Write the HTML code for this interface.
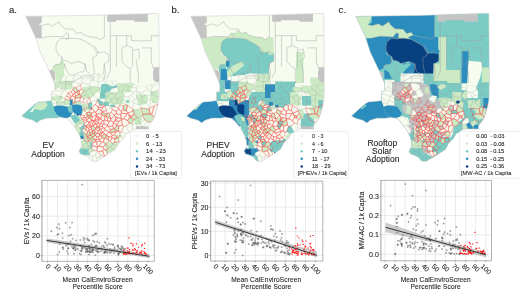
<!DOCTYPE html>
<html><head><meta charset="utf-8"><style>
html,body{margin:0;padding:0;background:#fff;}
body{width:520px;height:298px;overflow:hidden;}
svg{display:block;font-family:"Liberation Sans", sans-serif;}
svg{will-change:transform;}
text{stroke:#2a2a2a;stroke-width:0.1px;}
</style></head><body>
<svg width="520" height="298" viewBox="0 0 520 298">
<defs><path id="gmesh" d="M118.5,108.0L119.9,105.0L119.7,104.3L116.8,102.7L113.5,103.9L113.2,106.3ZM142.6,127.1L147.5,121.9L144.8,120.0L139.9,122.9ZM118.1,88.5L119.6,91.5L121.9,92.6L126.5,84.4L126.2,83.6L123.7,83.6ZM93.8,94.6L89.6,88.4L85.7,91.1L86.4,94.5L88.6,97.6L88.9,97.7L89.8,97.8L93.8,95.6ZM101.4,91.4L102.3,95.4L107.1,96.3L108.2,95.9L108.6,95.0L104.8,90.8ZM142.7,102.3L141.0,105.6L140.8,108.0L149.2,109.0L149.7,107.9L144.7,101.9ZM137.1,91.3L136.6,98.4L142.4,101.7L142.0,97.3L139.6,92.4ZM92.0,108.3L94.1,105.3L90.8,102.4L90.8,102.3L88.5,104.2L88.5,107.0ZM84.7,140.7L81.4,142.7L81.7,145.2L81.3,146.1L87.0,142.7L87.1,142.2ZM72.9,81.7L81.0,84.2L82.2,82.8L81.5,78.4L80.1,75.5L80.0,75.5L74.2,75.8ZM132.6,129.3L132.8,129.2L136.1,129.0L138.3,129.0L136.3,124.2L132.3,124.4ZM79.2,122.1L81.5,118.6L81.5,118.3L79.9,115.5L79.7,115.2L78.0,115.2L78.0,115.2L78.0,115.2L77.9,115.2L77.9,115.2L74.4,113.7L74.4,113.7L74.4,113.7L74.4,113.7L74.4,113.6L74.3,113.6L73.4,112.5L72.0,113.5L72.0,113.5L72.0,113.6L72.0,113.6L72.0,113.6L71.2,114.9ZM60.1,96.4L60.5,96.3L62.7,91.6L54.7,89.9L54.7,90.9L51.4,91.7L51.4,93.5ZM98.0,81.9L98.5,87.0L99.4,87.9L105.5,84.9L105.3,81.0L103.5,81.0L103.5,80.8ZM60.4,82.5L58.1,87.1L64.3,90.3L64.7,90.1L66.0,84.4L65.5,83.8ZM123.8,98.8L121.8,100.4L119.7,104.3L119.9,105.0L123.4,105.8L126.1,104.6ZM93.6,139.2L92.3,137.5L90.8,138.9L89.2,141.2L89.9,141.5L92.7,140.4ZM57.3,103.2L57.4,102.2L51.4,96.7L51.4,100.0L53.6,100.0L53.6,103.4ZM150.4,99.2L150.1,98.8L144.7,101.9L149.7,107.9L150.0,107.6ZM96.6,157.8L95.2,155.5L92.0,156.2L93.2,161.3L96.3,161.3ZM133.4,110.6L140.6,108.4L140.8,108.0L141.0,105.6L133.8,102.9L132.5,108.7ZM88.5,104.2L86.3,102.6L84.0,102.9L83.9,109.2L88.5,107.0ZM151.6,93.5L159.2,89.8L159.3,84.0L155.2,84.0L152.3,86.8L150.4,91.4ZM98.0,81.9L97.8,81.7L91.6,80.2L91.5,80.2L89.4,84.5L90.0,86.4L98.5,87.0ZM126.5,84.4L128.3,86.5L136.6,88.1L137.5,85.8L131.7,83.6L126.2,83.6ZM115.9,94.6L115.6,97.9L116.7,98.9L124.1,95.5L123.6,94.1L121.9,92.6L119.6,91.5ZM147.7,89.6L150.4,91.4L152.3,86.8L150.5,84.6L146.5,86.3L145.8,86.3ZM76.8,125.8L73.9,126.3L75.5,128.5L77.5,131.5L78.6,133.7L80.8,132.2L80.9,129.6L80.0,127.9ZM81.5,78.4L90.5,78.3L89.9,74.5L80.1,75.5ZM81.3,146.1L81.0,147.2L83.3,148.6L88.0,145.6L87.0,142.7ZM112.4,144.2L111.2,147.1L113.8,150.4L115.6,149.2L117.1,146.2ZM107.5,87.2L104.8,90.8L108.6,95.0L110.1,93.2L110.4,90.3ZM99.1,75.8L97.8,81.7L98.0,81.9L103.5,80.8L103.6,79.2ZM100.2,156.3L96.6,157.8L96.3,161.3L96.5,161.3L99.2,159.5L99.5,159.3ZM84.1,124.3L80.0,127.9L80.9,129.6L82.8,129.1L85.3,125.5ZM64.3,102.5L64.4,104.2L69.6,103.9L69.6,100.0L65.0,99.4ZM73.5,103.6L72.7,102.7L72.7,103.7ZM133.1,101.9L134.5,99.7L131.3,95.4L127.8,97.1L131.0,101.6ZM132.3,124.4L131.8,123.8L129.3,123.2L125.7,126.2L129.3,132.4L129.4,132.3L132.6,129.3ZM57.4,102.2L58.8,100.7L60.1,96.4L51.4,93.5L51.4,96.7ZM154.1,106.2L157.1,104.5L150.4,99.2L150.0,107.6ZM110.4,90.3L110.1,93.2L115.9,94.6L119.6,91.5L118.1,88.5L116.3,87.1ZM89.3,154.9L89.1,153.2L88.1,152.1L84.9,151.3L82.1,154.6L84.4,155.3L87.9,157.0ZM83.9,98.8L88.6,97.6L86.4,94.5L81.4,96.8ZM121.9,92.6L123.6,94.1L127.7,90.9L128.3,86.5L126.5,84.4ZM142.6,128.9L148.9,128.9L148.2,126.9L149.6,124.2L151.5,121.8L147.5,121.9L142.6,127.1ZM113.2,106.3L113.5,103.9L111.3,101.2L109.1,102.6L108.3,105.4L111.6,107.9L111.8,107.9ZM119.7,104.3L121.8,100.4L116.9,99.4L116.8,102.7ZM108.3,105.4L104.7,106.3L106.2,109.5L111.6,107.9ZM99.4,89.0L99.4,87.9L98.5,87.0L90.0,86.4L89.6,88.4L93.8,94.6ZM62.7,91.6L60.5,96.3L64.7,98.6L66.6,96.0L67.9,92.9L64.7,90.1L64.3,90.3ZM109.1,102.6L105.0,101.6L103.6,102.7L103.6,104.8L104.0,105.9L104.7,106.3L108.3,105.4ZM64.4,104.2L64.3,102.5L58.8,100.7L57.4,102.2L57.3,103.2L58.1,105.3L61.7,105.3L61.7,105.3L61.7,105.3L63.7,105.8ZM73.4,87.7L71.1,84.3L66.0,84.4L64.7,90.1L67.9,92.9L68.1,92.9L71.0,91.5L72.8,89.9ZM115.8,85.4L112.6,83.6L107.2,86.4L107.5,87.2L110.4,90.3L116.3,87.1ZM76.8,125.8L79.2,122.4L79.2,122.1L71.2,114.9L70.0,117.0L70.0,117.0L69.9,117.0L69.9,117.0L69.9,117.1L69.9,117.1L69.9,117.1L69.9,117.1L66.4,118.2L69.8,121.0L72.5,124.3L73.9,126.3ZM127.7,90.9L133.8,92.1L136.6,90.6L136.6,88.1L128.3,86.5ZM151.6,93.5L151.6,93.8L159.0,97.6L159.2,89.8ZM150.1,98.8L150.6,95.7L145.2,95.1L142.0,97.3L142.4,101.7L142.7,102.3L144.7,101.9ZM89.2,141.2L88.2,141.4L87.1,142.2L87.0,142.7L88.0,145.6L88.4,145.9L92.3,145.4L92.4,145.3L92.4,143.3L89.9,141.5ZM88.0,145.6L83.3,148.6L84.9,151.3L88.1,152.1L89.0,148.6L88.4,145.9ZM81.0,147.2L80.4,148.6L79.0,151.2L80.4,154.0L82.1,154.6L84.9,151.3L83.3,148.6ZM60.4,82.5L59.0,81.0L56.0,82.0L54.0,82.0L54.7,85.0L54.7,89.6L58.1,87.1ZM86.6,135.0L82.8,136.8L82.6,138.1L83.9,138.7L87.2,135.9ZM136.6,88.1L136.6,90.6L137.1,91.3L139.6,92.4L142.0,92.3L147.7,89.6L145.8,86.3L138.0,86.0L137.5,85.8ZM102.3,95.4L98.3,99.0L103.6,102.7L105.0,101.6L107.1,96.3ZM123.6,94.1L124.1,95.5L124.6,96.4L127.8,97.1L131.3,95.4L133.8,92.1L127.7,90.9ZM134.1,113.5L137.0,117.6L138.1,117.8L142.3,115.2L142.7,114.4L140.6,108.4L133.4,110.6L133.3,110.9ZM81.8,89.2L83.5,90.9L85.7,91.1L89.6,88.4L90.0,86.4L89.4,84.5L82.2,82.8L81.0,84.2L80.6,85.1ZM110.1,93.2L108.6,95.0L108.2,95.9L111.3,99.7L115.6,97.9L115.9,94.6ZM102.3,95.4L101.4,91.4L99.4,89.0L93.8,94.6L93.8,95.6L97.9,99.0L98.3,99.0ZM79.2,122.4L76.8,125.8L80.0,127.9L84.1,124.3L84.1,124.3ZM99.1,75.8L103.6,79.2L103.8,74.5L98.6,74.2ZM60.4,82.5L65.5,83.8L66.6,76.0L62.0,76.0L62.0,80.0L59.0,81.0ZM88.1,152.1L89.1,153.2L93.9,150.7L91.8,148.3L89.0,148.6ZM90.5,78.3L91.5,80.2L91.6,80.2L98.5,74.2L95.4,74.0L89.9,74.5ZM60.5,96.3L60.1,96.4L58.8,100.7L64.3,102.5L65.0,99.4L64.7,98.6ZM111.2,147.1L108.8,147.6L106.7,150.4L107.6,154.6L111.5,152.0L113.8,150.4ZM57.3,103.2L53.6,103.4L53.6,106.6L56.9,105.3L56.9,105.3L57.0,105.3L57.0,105.3L57.0,105.3L58.1,105.3ZM80.9,129.6L80.8,132.2L83.1,133.3L83.2,133.3L86.1,130.3L85.8,129.4L82.8,129.1ZM132.5,108.7L133.8,102.9L133.1,101.9L131.0,101.6L127.4,105.1L127.6,105.6ZM123.8,138.2L126.3,133.5L126.3,133.5L121.5,131.8L120.2,132.2L119.8,135.2ZM92.0,156.2L89.3,154.9L87.9,157.0L88.5,157.3L91.1,160.7L93.0,161.3L93.2,161.3ZM73.8,103.8L74.0,104.6L76.5,104.3L76.5,104.3L76.5,104.3L76.5,104.3L80.0,104.8L81.9,102.4L79.5,100.8L74.7,102.5ZM93.8,95.6L89.8,97.8L90.8,102.3L90.8,102.4L97.6,99.6L97.9,99.0ZM119.3,141.7L114.9,142.2L112.4,143.5L112.4,144.2L117.1,146.2L119.0,142.5L119.6,142.0ZM139.2,122.6L139.9,122.9L144.8,120.0L142.3,115.2L138.1,117.8ZM131.0,101.6L127.8,97.1L124.6,96.4L123.8,98.8L126.1,104.6L127.4,105.1ZM105.7,143.9L105.7,144.2L108.8,147.6L111.2,147.1L112.4,144.2L112.4,143.5L110.4,141.1L109.1,141.1ZM91.6,80.2L97.8,81.7L99.1,75.8L98.6,74.2L98.5,74.2ZM121.8,100.4L123.8,98.8L124.6,96.4L124.1,95.5L116.7,98.9L116.9,99.4ZM111.3,99.7L108.2,95.9L107.1,96.3L105.0,101.6L109.1,102.6L111.3,101.2ZM82.6,138.1L80.5,138.2L81.0,139.8L81.4,142.7L84.7,140.7L83.9,138.7ZM96.9,150.5L93.9,150.7L89.1,153.2L89.3,154.9L92.0,156.2L95.2,155.5L97.2,151.2ZM97.9,99.0L97.6,99.6L97.4,100.5L100.1,105.2L103.6,104.8L103.6,102.7L98.3,99.0ZM84.0,102.9L86.3,102.6L88.9,97.7L88.6,97.6L83.9,98.8L83.5,102.4ZM115.8,85.4L116.3,87.1L118.1,88.5L123.7,83.6L117.0,83.6L117.0,82.8ZM116.8,102.7L116.9,99.4L116.7,98.9L115.6,97.9L111.3,99.7L111.3,101.2L113.5,103.9ZM131.8,123.8L132.3,124.4L136.3,124.2L139.2,122.6L138.1,117.8L137.0,117.6L133.6,119.7ZM101.1,155.6L100.2,156.3L99.5,159.3L102.6,157.8L104.5,156.6ZM111.6,81.0L105.3,81.0L105.5,84.9L107.2,86.4L112.6,83.6ZM83.1,133.3L80.8,132.2L78.6,133.7L79.7,135.8L80.5,138.2L82.6,138.1L82.8,136.8ZM138.3,129.0L142.6,128.9L142.6,127.1L139.9,122.9L139.2,122.6L136.3,124.2ZM83.5,90.9L80.6,95.2L81.2,96.7L81.4,96.8L86.4,94.5L85.7,91.1ZM107.2,86.4L105.5,84.9L99.4,87.9L99.4,89.0L101.4,91.4L104.8,90.8L107.5,87.2ZM89.4,84.5L91.5,80.2L90.5,78.3L81.5,78.4L82.2,82.8ZM110.9,112.5L112.1,109.6L111.8,107.9L111.6,107.9L106.2,109.5L106.1,110.6L107.6,113.3L109.1,113.4ZM125.7,126.2L123.6,126.2L121.5,131.8L126.3,133.5L129.3,132.4ZM145.2,95.1L150.6,95.7L151.6,93.8L151.6,93.5L150.4,91.4L147.7,89.6L142.0,92.3ZM134.5,99.7L136.6,98.4L137.1,91.3L136.6,90.6L133.8,92.1L131.3,95.4ZM151.6,93.8L150.6,95.7L150.1,98.8L150.4,99.2L157.1,104.5L158.0,104.7L159.0,100.0L159.0,97.6ZM73.8,103.8L73.5,103.6L72.7,103.7L72.7,104.7L74.0,104.6ZM73.4,112.5L72.3,111.1L72.3,111.1L72.3,111.1L72.3,111.1L72.3,111.1L72.3,111.0L72.3,111.0L71.9,105.7L69.8,105.7L69.8,105.7L69.8,105.7L69.7,105.7L69.7,105.7L69.7,105.7L69.7,105.7L69.7,105.7L69.7,105.6L69.6,105.6L69.6,105.6L69.6,105.6L69.6,105.6L69.6,105.6L69.6,105.5L69.6,105.5L69.6,105.5L69.6,103.9L64.4,104.2L63.7,105.8L67.1,106.6L67.2,106.6L67.2,106.6L67.2,106.6L67.2,106.6L67.2,106.6L67.2,106.7L67.3,106.7L68.7,108.4L68.7,108.4L72.0,113.4L72.0,113.4L72.0,113.4L72.0,113.4L72.0,113.5L72.0,113.5L72.0,113.5L72.0,113.5L72.0,113.5ZM80.6,85.1L81.0,84.2L72.9,81.7L71.1,84.3L73.4,87.7L75.7,87.7ZM97.4,100.5L97.6,99.6L90.8,102.4L94.1,105.3L95.5,104.7ZM74.2,75.8L70.0,76.0L66.6,76.0L65.5,83.8L66.0,84.4L71.1,84.3L72.9,81.7ZM98.4,151.8L97.2,151.2L95.2,155.5L96.6,157.8L100.2,156.3L101.1,155.6ZM62.7,91.6L64.3,90.3L58.1,87.1L54.7,89.6L54.7,89.9ZM142.0,97.3L145.2,95.1L142.0,92.3L139.6,92.4ZM89.9,141.5L92.4,143.3L92.9,143.0L92.7,140.4ZM119.8,135.2L117.9,137.8L119.3,141.7L119.6,142.0L123.6,138.5L123.8,138.2ZM86.6,135.0L86.5,134.9L83.2,133.3L83.1,133.3L82.8,136.8ZM79.2,122.1L79.2,122.4L84.1,124.3L84.5,123.2L82.8,119.8L81.5,118.6ZM83.5,109.6L83.9,109.2L84.0,102.9L83.5,102.4L81.9,102.4L80.0,104.8L80.0,104.8L80.0,104.8L80.1,104.8L80.1,104.8L82.1,105.8L82.1,105.8L82.1,105.8L82.1,105.9L82.2,105.9L82.2,105.9L82.2,105.9L82.2,105.9L82.2,105.9L82.2,106.0L82.2,106.0L82.6,109.8ZM152.3,86.8L155.2,84.0L152.0,84.0L150.5,84.6ZM112.6,83.6L115.8,85.4L117.0,82.8L117.0,81.0L111.6,81.0ZM133.8,102.9L141.0,105.6L142.7,102.3L142.4,101.7L136.6,98.4L134.5,99.7L133.1,101.9ZM83.5,109.6L82.6,109.8L82.7,111.0L82.7,111.0L82.7,111.0L82.7,111.0L82.7,111.0L81.7,115.0L81.7,115.1L81.7,115.1L81.7,115.1L81.7,115.1L81.7,115.1L81.6,115.1L81.6,115.2L81.6,115.2L81.6,115.2L81.6,115.2L81.6,115.2L81.5,115.2L81.5,115.2L81.5,115.2L79.7,115.2L79.9,115.5L84.8,115.3L86.8,113.3L86.7,112.9ZM89.0,148.6L91.8,148.3L92.3,145.4L88.4,145.9Z" fill="none" stroke="#9a9a9a" stroke-opacity="0.45" stroke-width="0.3"/><path id="rmesh" d="M144.8,120.0L147.5,121.9L151.5,121.8L152.3,120.8L154.3,117.5L154.4,117.2L151.7,114.8L150.3,113.8L142.7,114.4L142.3,115.2ZM101.4,142.3L100.3,141.1L96.2,142.1L97.8,146.8L99.2,146.2ZM104.5,120.1L108.1,121.1L106.2,116.1L105.7,115.6L104.9,115.9ZM104.8,128.4L105.0,129.5L109.1,132.3L109.5,132.2L110.5,129.9L108.2,126.3L107.5,125.7ZM105.0,129.5L103.2,132.4L104.2,133.9L106.3,135.0L109.1,132.3ZM108.6,136.6L106.3,135.3L105.5,138.1L108.4,140.3ZM89.6,118.3L91.1,115.6L91.0,115.3L87.8,115.4L87.8,115.6L89.2,118.1ZM88.6,128.1L86.4,127.2L85.8,129.4L86.1,130.3L87.9,131.3L88.2,131.2L89.0,130.4ZM112.6,126.0L113.7,128.7L114.5,129.0L116.7,125.0L113.5,123.0ZM121.3,118.5L121.7,119.1L123.6,118.8L127.2,113.7L121.3,113.4L120.8,115.0ZM107.5,125.5L104.2,124.1L102.7,124.5L102.3,126.5L103.1,127.8L104.8,128.4L107.5,125.7ZM129.5,117.5L131.6,117.8L132.1,116.1L128.9,115.2ZM73.5,103.6L73.8,103.8L74.7,102.5L75.3,98.4L75.0,97.2L72.8,96.1L71.0,96.4L70.4,98.2L70.3,99.2L72.5,99.2L72.5,99.2L72.5,99.2L72.6,99.2L72.6,99.2L72.6,99.2L72.6,99.2L72.6,99.2L72.6,99.3L72.7,99.3L72.7,99.3L72.7,99.3L72.7,99.3L72.7,99.3L72.7,99.4L72.7,99.4L72.7,99.4L72.7,102.7ZM106.7,150.4L104.0,149.4L102.4,150.7L104.8,156.4L106.2,155.5L107.6,154.6ZM89.1,122.0L88.6,123.7L89.8,125.9L91.1,126.6L91.3,126.4L89.8,121.8ZM84.1,117.7L84.8,115.3L79.9,115.5L81.5,118.3ZM110.3,132.8L109.5,132.2L109.1,132.3L106.3,135.0L106.3,135.3L108.6,136.6L111.8,137.0L112.1,135.5ZM84.5,123.2L87.0,121.2L86.6,120.1L82.8,119.8ZM75.0,97.2L75.3,98.4L80.8,97.2L81.2,96.7L80.6,95.2L79.5,94.6L78.4,94.5L75.8,96.0ZM67.9,92.9L66.6,96.0L70.4,98.2L71.0,96.4L68.1,92.9ZM118.3,117.9L115.7,116.9L115.3,120.3ZM101.2,132.7L99.1,133.7L99.5,135.8L100.8,136.1L101.7,132.7ZM94.6,111.8L95.6,112.3L98.2,109.2L98.2,107.8L97.8,106.7L95.5,104.7L94.1,105.3L92.0,108.3L92.0,108.4ZM112.4,143.5L114.9,142.2L114.6,138.5L111.9,138.0L110.4,141.1ZM151.7,114.8L154.4,117.2L155.6,113.4L157.6,106.7L158.0,104.7L157.1,104.5L154.1,106.2ZM104.0,149.4L106.7,150.4L108.8,147.6L105.7,144.2L103.0,147.2ZM92.2,137.2L90.7,135.5L90.3,135.4L87.4,136.0L87.7,136.9L90.8,138.9L92.3,137.5ZM87.4,136.0L87.2,135.9L83.9,138.7L84.7,140.7L87.1,142.2L88.2,141.4L87.7,136.9ZM77.9,90.6L79.0,90.7L81.8,89.2L80.6,85.1L75.7,87.7ZM102.0,111.6L101.4,110.4L98.2,109.2L95.6,112.3L96.4,113.9L101.1,113.9L101.9,112.1ZM97.2,117.3L98.3,119.9L98.9,120.0L100.4,119.1ZM110.7,120.7L109.0,121.6L107.5,125.5L107.5,125.7L108.2,126.3L112.6,126.0L113.5,123.0L113.1,122.0ZM110.7,120.7L113.1,122.0L115.0,121.0L115.3,120.3L115.7,116.9L114.6,115.9L111.0,118.9L110.9,119.1ZM121.2,111.1L121.3,113.4L127.2,113.7L128.0,113.1L128.1,113.0L126.2,110.6L123.3,110.0ZM91.6,113.4L88.8,112.2L86.7,112.9L86.8,113.3L87.8,115.4L91.0,115.3ZM127.4,105.1L126.1,104.6L123.4,105.8L123.3,110.0L126.2,110.6L127.6,105.6ZM118.7,109.4L116.3,111.4L116.1,113.6L120.8,115.0L121.3,113.4L121.2,111.1ZM103.6,104.8L100.1,105.2L97.8,106.7L98.2,107.8L103.1,106.9L104.0,105.9ZM106.8,114.1L107.6,113.3L106.1,110.6L102.0,111.6L101.9,112.1ZM115.0,121.0L118.9,121.2L121.5,119.6L121.7,119.1L121.3,118.5L118.3,117.9L115.3,120.3ZM101.1,113.9L102.1,115.3L104.9,115.9L105.7,115.6L106.8,114.1L101.9,112.1ZM91.1,115.6L92.4,116.7L96.2,114.9L96.4,113.9L95.6,112.3L94.6,111.8L91.6,113.4L91.0,115.3ZM99.2,139.2L98.2,136.7L96.7,136.6L95.7,140.1ZM103.0,132.4L101.7,132.7L100.8,136.1L101.6,136.6L104.2,133.9L103.2,132.4ZM94.8,124.6L96.1,124.1L94.4,120.3L93.1,120.5ZM97.4,100.5L95.5,104.7L97.8,106.7L100.1,105.2ZM112.1,109.6L110.9,112.5L114.6,115.3L116.1,113.6L116.3,111.4ZM106.2,116.1L108.1,121.1L109.0,121.6L110.7,120.7L110.9,119.1ZM114.9,142.2L119.3,141.7L117.9,137.8L117.4,137.7L114.6,138.5ZM92.7,133.3L92.4,131.5L89.9,132.7L90.3,135.4L90.7,135.5ZM91.8,148.3L93.9,150.7L96.9,150.5L97.4,147.3L92.4,145.3L92.3,145.4ZM117.4,137.7L117.9,137.8L119.8,135.2L120.2,132.2L118.4,131.3L116.6,131.1L116.2,131.5L114.5,134.7ZM71.0,91.5L72.9,94.6L74.8,93.3L74.9,92.3L72.8,89.9ZM114.5,134.7L116.2,131.5L110.3,132.8L112.1,135.5ZM103.3,142.0L104.3,138.7L101.9,137.5L99.9,139.6L100.3,141.1L101.4,142.3ZM100.7,129.2L99.8,129.2L99.1,130.1L101.2,132.7L101.7,132.7L103.0,132.4ZM98.3,123.0L96.4,124.2L97.0,125.8L99.3,126.5L99.8,126.0L99.8,123.6L98.5,122.9ZM91.1,126.6L89.8,125.9L86.2,126.3L86.4,127.2L88.6,128.1L91.1,126.7ZM118.8,126.0L122.4,125.1L121.5,119.6L118.9,121.2L117.0,125.0ZM88.8,112.2L91.6,113.4L94.6,111.8L92.0,108.4ZM116.7,125.0L114.5,129.0L116.6,131.1L118.4,131.3L118.8,126.0L117.0,125.0ZM92.2,137.2L95.4,135.4L94.0,133.8L92.7,133.3L90.7,135.5ZM116.2,131.5L116.6,131.1L114.5,129.0L113.7,128.7L110.5,129.9L109.5,132.2L110.3,132.8ZM132.1,116.1L134.1,113.5L133.3,110.9L128.1,113.0L128.0,113.1L128.9,115.2ZM127.5,120.5L123.6,118.8L121.7,119.1L121.5,119.6L122.4,125.1L123.6,126.2L125.7,126.2L129.3,123.2ZM79.5,100.8L81.9,102.4L83.5,102.4L83.9,98.8L81.4,96.8L81.2,96.7L80.8,97.2ZM93.0,125.7L91.3,126.4L91.1,126.6L91.1,126.7L91.5,129.6L92.7,130.5L94.4,130.2L95.4,129.2L95.4,128.4ZM91.9,120.5L91.8,120.2L89.6,118.3L89.2,118.1L86.7,119.7L86.6,120.1L87.0,121.2L89.1,122.0L89.8,121.8L91.8,120.6ZM92.9,143.0L95.7,141.6L95.6,140.2L93.6,139.2L92.7,140.4ZM74.7,102.5L79.5,100.8L80.8,97.2L75.3,98.4ZM90.8,102.3L89.8,97.8L88.9,97.7L86.3,102.6L88.5,104.2ZM127.5,120.5L129.3,123.2L131.8,123.8L133.6,119.7L131.6,117.8L129.5,117.5ZM87.8,115.4L86.8,113.3L84.8,115.3L84.1,117.7L85.9,117.9L87.8,115.6ZM102.4,120.4L101.1,123.2L102.7,124.5L104.2,124.1L103.8,120.5ZM105.5,138.1L104.3,138.7L103.3,142.0L105.7,143.9L109.1,141.1L108.4,140.3ZM89.9,132.7L88.2,131.2L87.9,131.3L86.5,134.9L86.6,135.0L87.2,135.9L87.4,136.0L90.3,135.4ZM94.4,130.2L95.0,131.5L96.8,133.4L97.9,132.9L98.3,130.5L95.4,129.2ZM98.9,120.0L98.3,119.9L95.0,120.0L95.0,120.0L98.3,123.0L98.5,122.9ZM103.0,147.2L105.7,144.2L105.7,143.9L103.3,142.0L101.4,142.3L99.2,146.2ZM100.7,118.3L96.2,115.0L96.2,116.0L97.2,117.3L100.4,119.1L100.7,119.0ZM105.7,115.6L106.2,116.1L110.9,119.1L111.0,118.9L109.1,113.4L107.6,113.3L106.8,114.1ZM85.9,125.9L88.6,123.7L89.1,122.0L87.0,121.2L84.5,123.2L84.1,124.3L84.1,124.3L85.3,125.5ZM99.8,123.6L101.1,123.2L102.4,120.4L100.7,119.0L100.4,119.1L98.9,120.0L98.5,122.9ZM99.8,126.0L102.3,126.5L102.7,124.5L101.1,123.2L99.8,123.6ZM97.0,125.8L95.8,128.0L99.3,127.7L99.3,126.5ZM128.0,113.1L127.2,113.7L123.6,118.8L127.5,120.5L129.5,117.5L128.9,115.2ZM96.4,113.9L96.2,114.9L96.2,115.0L100.7,118.3L102.1,115.3L101.1,113.9ZM87.9,131.3L86.1,130.3L83.2,133.3L86.5,134.9ZM104.5,156.6L104.8,156.4L102.4,150.7L98.4,151.8L101.1,155.6ZM93.1,125.5L94.8,124.6L93.1,120.5L91.9,120.5L91.8,120.6ZM91.8,120.2L92.4,116.7L91.1,115.6L89.6,118.3ZM92.0,108.3L88.5,107.0L83.9,109.2L83.5,109.6L86.7,112.9L88.8,112.2L92.0,108.4ZM86.2,126.3L89.8,125.9L88.6,123.7L85.9,125.9ZM113.5,123.0L116.7,125.0L117.0,125.0L118.9,121.2L115.0,121.0L113.1,122.0ZM99.3,127.7L99.8,129.2L100.7,129.2L103.1,127.8L102.3,126.5L99.8,126.0L99.3,126.5ZM95.6,140.2L95.7,140.1L96.7,136.6L95.5,135.4L95.4,135.4L92.2,137.2L92.3,137.5L93.6,139.2ZM118.4,131.3L120.2,132.2L121.5,131.8L123.6,126.2L122.4,125.1L118.8,126.0ZM100.8,136.1L99.5,135.8L98.2,136.7L99.2,139.2L99.9,139.6L101.9,137.5L101.6,136.6ZM89.8,121.8L91.3,126.4L93.0,125.7L93.1,125.5L91.8,120.6ZM68.1,92.9L71.0,96.4L72.8,96.1L72.9,94.6L71.0,91.5ZM100.7,118.3L100.7,119.0L102.4,120.4L103.8,120.5L104.5,120.1L104.9,115.9L102.1,115.3ZM91.5,129.6L91.1,126.7L88.6,128.1L89.0,130.4ZM79.0,90.7L79.5,94.6L80.6,95.2L83.5,90.9L81.8,89.2ZM97.8,146.8L97.4,147.3L96.9,150.5L97.2,151.2L98.4,151.8L102.4,150.7L104.0,149.4L103.0,147.2L99.2,146.2ZM104.8,128.4L103.1,127.8L100.7,129.2L103.0,132.4L103.2,132.4L105.0,129.5ZM101.6,136.6L101.9,137.5L104.3,138.7L105.5,138.1L106.3,135.3L106.3,135.0L104.2,133.9ZM103.1,106.9L98.2,107.8L98.2,109.2L101.4,110.4ZM92.4,143.3L92.4,145.3L97.4,147.3L97.8,146.8L96.2,142.1L95.7,141.6L92.9,143.0ZM74.9,92.3L76.8,92.4L77.9,90.6L75.7,87.7L73.4,87.7L72.8,89.9ZM118.3,117.9L121.3,118.5L120.8,115.0L116.1,113.6L114.6,115.3L114.6,115.9L115.7,116.9ZM112.1,109.6L116.3,111.4L118.7,109.4L118.5,108.0L113.2,106.3L111.8,107.9ZM126.2,110.6L128.1,113.0L133.3,110.9L133.4,110.6L132.5,108.7L127.6,105.6ZM94.0,133.8L95.0,131.5L94.4,130.2L92.7,130.5L92.4,131.5L92.7,133.3ZM95.0,120.0L94.4,120.3L96.1,124.1L96.4,124.2L98.3,123.0ZM109.1,141.1L110.4,141.1L111.9,138.0L111.8,137.0L108.6,136.6L108.4,140.3ZM96.2,116.0L95.0,120.0L98.3,119.9L97.2,117.3ZM95.5,135.4L96.7,136.6L98.2,136.7L99.5,135.8L99.1,133.7L97.9,132.9L96.8,133.4ZM82.8,129.1L85.8,129.4L86.4,127.2L86.2,126.3L85.9,125.9L85.3,125.5ZM123.4,105.8L119.9,105.0L118.5,108.0L118.7,109.4L121.2,111.1L123.3,110.0ZM78.4,94.5L79.5,94.6L79.0,90.7L77.9,90.6L76.8,92.4ZM108.2,126.3L110.5,129.9L113.7,128.7L112.6,126.0ZM149.7,107.9L149.2,109.0L150.3,113.8L151.7,114.8L154.1,106.2L150.0,107.6ZM114.6,115.9L114.6,115.3L110.9,112.5L109.1,113.4L111.0,118.9ZM111.8,137.0L111.9,138.0L114.6,138.5L117.4,137.7L114.5,134.7L112.1,135.5ZM109.0,121.6L108.1,121.1L104.5,120.1L103.8,120.5L104.2,124.1L107.5,125.5ZM96.1,124.1L94.8,124.6L93.1,125.5L93.0,125.7L95.4,128.4L95.8,128.0L97.0,125.8L96.4,124.2ZM87.7,136.9L88.2,141.4L89.2,141.2L90.8,138.9ZM131.6,117.8L133.6,119.7L137.0,117.6L134.1,113.5L132.1,116.1ZM93.1,120.5L94.4,120.3L95.0,120.0L95.0,120.0L96.2,116.0L96.2,115.0L96.2,114.9L92.4,116.7L91.8,120.2L91.9,120.5ZM106.1,110.6L106.2,109.5L104.7,106.3L104.0,105.9L103.1,106.9L101.4,110.4L102.0,111.6ZM96.2,142.1L100.3,141.1L99.9,139.6L99.2,139.2L95.7,140.1L95.6,140.2L95.7,141.6ZM97.9,132.9L99.1,133.7L101.2,132.7L99.1,130.1L98.3,130.5ZM92.7,130.5L91.5,129.6L89.0,130.4L88.2,131.2L89.9,132.7L92.4,131.5ZM95.4,135.4L95.5,135.4L96.8,133.4L95.0,131.5L94.0,133.8ZM95.4,128.4L95.4,129.2L98.3,130.5L99.1,130.1L99.8,129.2L99.3,127.7L95.8,128.0ZM65.0,99.4L69.6,100.0L69.6,99.4L69.6,99.4L69.6,99.4L69.6,99.3L69.6,99.3L69.6,99.3L69.6,99.3L69.6,99.3L69.7,99.3L69.7,99.2L69.7,99.2L69.7,99.2L69.7,99.2L69.7,99.2L69.8,99.2L69.8,99.2L69.8,99.2L70.3,99.2L70.4,98.2L66.6,96.0L64.7,98.6ZM87.8,115.6L85.9,117.9L86.7,119.7L89.2,118.1ZM74.8,93.3L75.8,96.0L78.4,94.5L76.8,92.4L74.9,92.3ZM85.9,117.9L84.1,117.7L81.5,118.3L81.5,118.6L82.8,119.8L86.6,120.1L86.7,119.7ZM72.8,96.1L75.0,97.2L75.8,96.0L74.8,93.3L72.9,94.6ZM142.7,114.4L150.3,113.8L149.2,109.0L140.8,108.0L140.6,108.4Z" fill="none" stroke="#ff3434" stroke-width="0.34" stroke-linejoin="round"/><path id="lines" d="M38.2,24.8 L42.2,25.5 L48.3,23.8 L52.3,26.1 L59.0,21.7 L60.4,24.8 L65.1,28.8 L73.2,29.2 L76.5,33.5 L81.2,32.2 L83.3,34.9 L90.0,36.9 L97.0,37.5 L99.5,39.5 L104.4,37.3M41.5,38.2 L49.6,36.2 L63.1,36.9 L66.4,32.9 L68.5,33.5 L68.5,38.9 L65.2,39.2M104.4,15.0 L104.4,37.3M110.3,21.7 L110.3,71.3 L106.7,78.4M110.3,35.7 L131.4,35.7 L131.4,40.8 L151.3,40.8 L151.3,35.7 L159.0,35.7M116.6,35.7 L116.6,66.6M126.7,35.7 L126.7,45.5 L122.0,47.9 L122.0,62.0 L125.5,65.5 L130.2,69.0 L130.2,83.0M126.7,45.5 L132.6,47.9 L132.6,66.6 L130.2,69.0M133.7,50.2 L138.4,49.0 L139.6,57.3 L136.1,60.8 L138.4,73.7 L138.4,83.0M142.0,47.9 L151.3,47.9 L151.3,62.0 L153.7,69.0M56.3,50.8 L55.9,47.0 L57.0,41.6 L61.4,38.6 L65.2,38.4 L73.6,38.3 L81.1,39.2 L85.3,41.7 L90.3,44.3 L93.7,46.8 L96.2,51.8 L98.7,52.7 L103.8,51.8 L108.8,54.3 L108.8,61.0 L104.6,63.6 L104.0,68.0 L103.5,73.5M56.3,50.8 L58.4,54.8 L61.7,56.8 L63.1,60.2 L67.1,60.9 L71.1,63.6 L75.2,62.2 L79.2,61.5 L84.6,64.2 L86.6,71.6 L90.0,73.5M61.7,56.8 L61.7,61.4 L60.4,64.1 L55.0,64.8 L53.6,68.2M93.7,46.0 L97.9,50.2 L97.0,55.2 L92.9,57.7 L92.9,63.6 L94.5,72.0 L92.9,76.2 L93.7,80.0M85.2,63.3 L85.2,68.6 L83.0,72.3 L80.0,71.6 L77.0,73.9 L72.4,75.4 L68.7,73.9 L66.4,70.1 L65.6,67.0 L64.1,64.0M103.8,63.6 L105.5,72.0 L104.0,80.0M92.8,76.0 L83.7,76.0 L76.2,79.9 L72.4,82.1 L64.9,81.4" fill="none" stroke="#a0a0a0" stroke-width="0.45"/><clipPath id="cclip"><polygon points="25.70,16.30 90.00,15.40 158.80,13.30 159.00,40.00 159.20,67.00 159.30,82.00 159.00,100.00 157.60,106.70 155.60,113.40 154.30,117.50 152.30,120.80 149.60,124.20 148.20,126.90 148.90,128.90 136.10,129.00 132.80,129.20 129.40,132.30 126.30,133.50 123.60,138.50 119.00,142.50 115.60,149.20 111.50,152.00 106.20,155.50 102.60,157.80 99.20,159.50 96.50,161.30 93.00,161.30 91.10,160.70 88.50,157.30 84.40,155.30 80.40,154.00 79.00,151.20 80.40,148.60 81.70,145.20 81.00,139.80 79.70,135.80 77.50,131.50 75.50,128.50 72.50,124.30 69.80,121.00 66.40,118.20 60.40,117.60 55.00,118.20 46.90,118.20 40.20,120.30 36.80,123.00 32.80,120.30 25.40,118.20 21.50,116.00 28.00,110.00 35.00,104.00 38.20,102.00 46.90,101.20 51.40,100.60 51.40,91.70 54.70,90.90 54.70,85.00 53.90,81.70 53.00,80.00 48.90,70.20 40.20,52.00 35.90,38.20"/></clipPath></defs><g transform="translate(0,0)"><polygon points="25.70,16.30 90.00,15.40 158.80,13.30 159.00,40.00 159.20,67.00 159.30,82.00 159.00,100.00 157.60,106.70 155.60,113.40 154.30,117.50 152.30,120.80 149.60,124.20 148.20,126.90 148.90,128.90 136.10,129.00 132.80,129.20 129.40,132.30 126.30,133.50 123.60,138.50 119.00,142.50 115.60,149.20 111.50,152.00 106.20,155.50 102.60,157.80 99.20,159.50 96.50,161.30 93.00,161.30 91.10,160.70 88.50,157.30 84.40,155.30 80.40,154.00 79.00,151.20 80.40,148.60 81.70,145.20 81.00,139.80 79.70,135.80 77.50,131.50 75.50,128.50 72.50,124.30 69.80,121.00 66.40,118.20 60.40,117.60 55.00,118.20 46.90,118.20 40.20,120.30 36.80,123.00 32.80,120.30 25.40,118.20 21.50,116.00 28.00,110.00 35.00,104.00 38.20,102.00 46.90,101.20 51.40,100.60 51.40,91.70 54.70,90.90 54.70,85.00 53.90,81.70 53.00,80.00 48.90,70.20 40.20,52.00 35.90,38.20" fill="#f7fcf0"/><g clip-path="url(#cclip)"><polygon points="21.50,116.00 28.00,110.00 35.00,104.00 38.20,102.00 46.90,101.20 51.40,100.60 53.60,106.80 54.30,110.80 57.00,114.90 61.70,117.60 60.40,117.60 55.00,118.20 46.90,118.20 40.20,120.30 36.80,123.00 32.80,120.30 25.40,118.20" fill="#7bccc4" /><polygon points="30.00,112.00 34.00,107.00 37.50,102.80 38.50,103.50 35.00,108.00 32.50,112.00" fill="#f7fcf0" /><polygon points="33.50,108.80 37.50,102.80 42.90,102.10 46.90,102.80 47.60,105.50 44.20,109.50 40.20,110.20" fill="#ccebc5" /><polygon points="53.60,65.50 59.00,64.10 61.70,60.70 63.70,61.40 65.80,65.50 63.70,70.20 64.40,74.20 60.40,80.90 55.70,80.30 55.70,72.90 50.30,70.80 53.60,67.50" fill="#ccebc5" /><polygon points="60.40,83.60 63.10,81.00 66.40,81.60 68.50,82.30 71.80,84.30 72.50,89.00 66.40,89.70 60.40,89.00" fill="#ccebc5" /><polygon points="51.40,96.40 62.70,96.00 63.00,99.70 56.00,100.50 51.40,100.60" fill="#ccebc5" /><polygon points="60.00,80.80 72.70,80.80 72.00,89.00 60.00,89.00" fill="#ccebc5" /><polygon points="83.00,87.00 90.00,86.50 91.00,92.00 86.00,93.00 83.00,92.00" fill="#ccebc5" /><polygon points="95.40,87.70 100.80,87.50 100.50,92.00 95.40,92.00" fill="#ccebc5" /><polygon points="117.60,83.60 134.40,83.60 132.00,88.00 130.00,92.00 118.00,92.00" fill="#ccebc5" /><polygon points="104.80,92.00 123.60,92.00 123.60,104.10 112.00,104.80 104.80,101.00" fill="#ccebc5" /><polygon points="136.00,95.00 141.00,94.00 148.00,96.00 147.00,104.00 138.00,105.00" fill="#ccebc5" /><polygon points="150.00,91.00 158.50,91.00 158.00,103.00 152.00,103.00" fill="#ccebc5" /><polygon points="132.00,109.00 140.00,109.50 142.00,116.00 141.00,125.00 135.00,124.00 133.00,117.00" fill="#ccebc5" /><polygon points="104.20,142.40 116.00,142.40 115.60,149.20 111.50,152.00 106.20,153.60" fill="#ccebc5" /><polygon points="114.80,135.00 122.20,135.00 121.00,137.40 117.20,139.90 114.80,140.00" fill="#ccebc5" /><polygon points="81.80,140.00 89.90,140.00 89.90,148.60 81.80,148.60" fill="#ccebc5" /><polygon points="83.70,132.50 95.00,132.50 95.00,141.00 83.70,141.00" fill="#ccebc5" /><polygon points="56.00,101.00 66.00,101.00 68.00,105.00 56.00,104.50" fill="#ccebc5" /><polygon points="68.00,101.00 80.00,101.00 82.00,105.00 68.00,105.00" fill="#ccebc5" /><polygon points="82.00,104.00 90.00,103.50 90.00,110.00 83.00,112.00" fill="#ccebc5" /><polygon points="86.00,112.00 92.00,112.00 92.00,118.00 86.00,118.00" fill="#ccebc5" /><polygon points="72.00,116.00 80.00,116.00 82.00,125.00 76.00,126.00" fill="#ccebc5" /><polygon points="101.50,84.00 108.00,84.00 110.00,86.00 113.00,86.00 118.00,85.00 117.00,87.50 112.00,88.50 109.00,92.00 101.00,92.00 100.80,88.00" fill="#7bccc4" /><polygon points="100.00,92.00 105.50,92.00 105.50,98.70 100.00,98.70" fill="#7bccc4" /><polygon points="104.00,102.00 108.80,102.00 108.80,106.00 104.00,106.00" fill="#7bccc4" /><polygon points="110.00,104.80 115.00,104.80 115.00,106.80 110.00,106.80" fill="#7bccc4" /><polygon points="126.30,100.00 129.00,100.00 129.00,102.80 126.30,102.80" fill="#7bccc4" /><polygon points="88.50,102.80 92.00,102.80 92.00,109.50 88.50,109.50" fill="#7bccc4" /><polygon points="78.40,129.70 83.00,129.70 83.70,136.00 79.50,136.00" fill="#7bccc4" /><polygon points="78.70,148.60 89.90,148.60 89.90,154.80 84.40,155.30 80.40,154.00 79.00,151.20" fill="#7bccc4" /><polygon points="89.90,141.80 91.80,141.80 91.80,148.00 89.90,148.00" fill="#7bccc4" /><polygon points="66.00,106.00 72.50,106.00 73.50,112.00 70.00,116.00" fill="#7bccc4" /><polygon points="70.00,116.00 76.00,114.00 80.00,120.00 75.00,124.00" fill="#7bccc4" /><polygon points="53.60,106.80 57.00,105.50 61.70,105.50 67.10,106.80 68.50,108.50 71.80,113.50 69.80,116.90 65.80,118.20 61.70,117.60 57.00,114.90 54.30,110.80" fill="#2b8cbe" /><polygon points="72.00,105.00 76.50,104.50 80.00,105.00 82.00,106.00 82.50,111.00 81.50,115.00 78.00,115.00 74.50,113.50 72.50,111.00" fill="#2b8cbe" /><polygon points="69.80,99.40 72.50,99.40 72.50,105.50 69.80,105.50" fill="#2b8cbe" /><polygon points="79.70,135.80 83.70,135.80 83.70,139.10 80.50,139.10" fill="#2b8cbe" /><polygon points="67.50,107.50 69.50,107.00 71.00,112.00 69.00,113.00" fill="#7bccc4" /><polygon points="77.00,114.00 78.50,114.00 78.50,115.50 77.00,115.50" fill="#084081" /><polygon points="25.70,16.30 41.80,16.30 41.80,22.50 38.20,24.80 41.50,26.00 41.80,38.20 35.90,38.20" fill="#c4c4c4" /><polygon points="107.20,14.40 147.90,13.90 147.90,21.70 134.40,21.70 134.40,20.30 116.00,20.30 116.00,21.70 107.20,21.70" fill="#c4c4c4" /><polygon points="154.00,67.50 159.30,67.00 159.30,82.30 156.00,82.30 153.30,80.00 153.00,72.00" fill="#c4c4c4" /><polygon points="48.90,70.20 52.00,69.80 55.00,72.50 55.20,80.30 53.60,81.00" fill="#c4c4c4" /><polygon points="136.10,126.20 148.50,126.50 148.90,128.90 136.10,129.00" fill="#c4c4c4" /><path d="M144.8,120.0L147.5,121.9L151.5,121.8L152.3,120.8L154.3,117.5L154.4,117.2L151.7,114.8L150.3,113.8L142.7,114.4L142.3,115.2ZM93.8,94.6L89.6,88.4L85.7,91.1L86.4,94.5L88.6,97.6L88.9,97.7L89.8,97.8L93.8,95.6ZM108.6,136.6L106.3,135.3L105.5,138.1L108.4,140.3ZM129.5,117.5L131.6,117.8L132.1,116.1L128.9,115.2ZM75.0,97.2L75.3,98.4L80.8,97.2L81.2,96.7L80.6,95.2L79.5,94.6L78.4,94.5L75.8,96.0ZM76.8,125.8L73.9,126.3L75.5,128.5L77.5,131.5L78.6,133.7L80.8,132.2L80.9,129.6L80.0,127.9ZM101.2,132.7L99.1,133.7L99.5,135.8L100.8,136.1L101.7,132.7ZM92.2,137.2L90.7,135.5L90.3,135.4L87.4,136.0L87.7,136.9L90.8,138.9L92.3,137.5ZM64.3,102.5L64.4,104.2L69.6,103.9L69.6,100.0L65.0,99.4ZM83.9,98.8L88.6,97.6L86.4,94.5L81.4,96.8ZM99.4,89.0L99.4,87.9L98.5,87.0L90.0,86.4L89.6,88.4L93.8,94.6ZM127.4,105.1L126.1,104.6L123.4,105.8L123.3,110.0L126.2,110.6L127.6,105.6ZM101.1,113.9L102.1,115.3L104.9,115.9L105.7,115.6L106.8,114.1L101.9,112.1ZM92.7,133.3L92.4,131.5L89.9,132.7L90.3,135.4L90.7,135.5ZM60.4,82.5L59.0,81.0L56.0,82.0L54.0,82.0L54.7,85.0L54.7,89.6L58.1,87.1ZM116.7,125.0L114.5,129.0L116.6,131.1L118.4,131.3L118.8,126.0L117.0,125.0ZM116.2,131.5L116.6,131.1L114.5,129.0L113.7,128.7L110.5,129.9L109.5,132.2L110.3,132.8ZM93.0,125.7L91.3,126.4L91.1,126.6L91.1,126.7L91.5,129.6L92.7,130.5L94.4,130.2L95.4,129.2L95.4,128.4ZM88.1,152.1L89.1,153.2L93.9,150.7L91.8,148.3L89.0,148.6ZM127.5,120.5L129.3,123.2L131.8,123.8L133.6,119.7L131.6,117.8L129.5,117.5ZM119.3,141.7L114.9,142.2L112.4,143.5L112.4,144.2L117.1,146.2L119.0,142.5L119.6,142.0ZM105.7,115.6L106.2,116.1L110.9,119.1L111.0,118.9L109.1,113.4L107.6,113.3L106.8,114.1ZM97.0,125.8L95.8,128.0L99.3,127.7L99.3,126.5ZM83.5,90.9L80.6,95.2L81.2,96.7L81.4,96.8L86.4,94.5L85.7,91.1ZM101.6,136.6L101.9,137.5L104.3,138.7L105.5,138.1L106.3,135.3L106.3,135.0L104.2,133.9ZM74.9,92.3L76.8,92.4L77.9,90.6L75.7,87.7L73.4,87.7L72.8,89.9ZM94.0,133.8L95.0,131.5L94.4,130.2L92.7,130.5L92.4,131.5L92.7,133.3ZM82.8,129.1L85.8,129.4L86.4,127.2L86.2,126.3L85.9,125.9L85.3,125.5ZM78.4,94.5L79.5,94.6L79.0,90.7L77.9,90.6L76.8,92.4ZM89.9,141.5L92.4,143.3L92.9,143.0L92.7,140.4ZM79.2,122.1L79.2,122.4L84.1,124.3L84.5,123.2L82.8,119.8L81.5,118.6ZM95.4,135.4L95.5,135.4L96.8,133.4L95.0,131.5L94.0,133.8ZM142.7,114.4L150.3,113.8L149.2,109.0L140.8,108.0L140.6,108.4Z" fill="#ccebc5" stroke="#ccebc5" stroke-width="0.25"/><path d="M84.1,124.3L80.0,127.9L80.9,129.6L82.8,129.1L85.3,125.5ZM97.9,99.0L97.6,99.6L97.4,100.5L100.1,105.2L103.6,104.8L103.6,102.7L98.3,99.0Z" fill="#7bccc4" stroke="#7bccc4" stroke-width="0.25"/><use href="#lines"/><use href="#gmesh"/><use href="#rmesh"/></g><polygon points="25.70,16.30 90.00,15.40 158.80,13.30 159.00,40.00 159.20,67.00 159.30,82.00 159.00,100.00 157.60,106.70 155.60,113.40 154.30,117.50 152.30,120.80 149.60,124.20 148.20,126.90 148.90,128.90 136.10,129.00 132.80,129.20 129.40,132.30 126.30,133.50 123.60,138.50 119.00,142.50 115.60,149.20 111.50,152.00 106.20,155.50 102.60,157.80 99.20,159.50 96.50,161.30 93.00,161.30 91.10,160.70 88.50,157.30 84.40,155.30 80.40,154.00 79.00,151.20 80.40,148.60 81.70,145.20 81.00,139.80 79.70,135.80 77.50,131.50 75.50,128.50 72.50,124.30 69.80,121.00 66.40,118.20 60.40,117.60 55.00,118.20 46.90,118.20 40.20,120.30 36.80,123.00 32.80,120.30 25.40,118.20 21.50,116.00 28.00,110.00 35.00,104.00 38.20,102.00 46.90,101.20 51.40,100.60 51.40,91.70 54.70,90.90 54.70,85.00 53.90,81.70 53.00,80.00 48.90,70.20 40.20,52.00 35.90,38.20" fill="none" stroke="#c8c8c8" stroke-width="0.5"/></g><g transform="translate(165,0)"><polygon points="25.70,16.30 90.00,15.40 158.80,13.30 159.00,40.00 159.20,67.00 159.30,82.00 159.00,100.00 157.60,106.70 155.60,113.40 154.30,117.50 152.30,120.80 149.60,124.20 148.20,126.90 148.90,128.90 136.10,129.00 132.80,129.20 129.40,132.30 126.30,133.50 123.60,138.50 119.00,142.50 115.60,149.20 111.50,152.00 106.20,155.50 102.60,157.80 99.20,159.50 96.50,161.30 93.00,161.30 91.10,160.70 88.50,157.30 84.40,155.30 80.40,154.00 79.00,151.20 80.40,148.60 81.70,145.20 81.00,139.80 79.70,135.80 77.50,131.50 75.50,128.50 72.50,124.30 69.80,121.00 66.40,118.20 60.40,117.60 55.00,118.20 46.90,118.20 40.20,120.30 36.80,123.00 32.80,120.30 25.40,118.20 21.50,116.00 28.00,110.00 35.00,104.00 38.20,102.00 46.90,101.20 51.40,100.60 51.40,91.70 54.70,90.90 54.70,85.00 53.90,81.70 53.00,80.00 48.90,70.20 40.20,52.00 35.90,38.20" fill="#f7fcf0"/><g clip-path="url(#cclip)"><polygon points="41.50,38.20 49.60,36.20 63.10,36.90 66.40,32.90 68.50,33.50 68.50,38.90 63.00,41.00 59.00,45.00 57.70,50.00 56.30,52.00 57.00,54.70 60.40,56.00 61.70,61.40 60.40,64.10 55.00,64.80 53.60,68.20 48.90,70.20 40.20,52.00 35.90,38.20" fill="#ccebc5" /><polygon points="68.50,33.50 73.20,30.00 76.50,33.50 81.20,32.20 83.30,34.90 90.00,36.90 97.00,37.50 99.50,39.50 104.40,37.30 108.20,37.00 108.80,54.30 103.80,51.80 98.70,52.70 96.20,51.80 93.70,46.80 90.30,44.30 85.30,41.70 81.10,39.20 73.60,38.30 65.20,38.40 68.50,38.90" fill="#ccebc5" /><polygon points="56.30,50.80 55.90,47.00 57.00,41.60 61.40,38.60 65.20,38.40 73.60,38.30 81.10,39.20 85.30,41.70 90.30,44.30 93.70,46.80 96.20,51.80 98.70,52.70 103.80,51.80 108.80,54.30 108.80,61.00 104.60,63.60 104.00,68.00 103.50,73.50 90.00,73.50 84.00,73.50 84.60,64.20 79.20,61.50 75.20,62.20 71.10,63.60 67.10,60.90 63.10,60.20 61.70,56.80 58.40,54.80" fill="#7bccc4" /><polygon points="61.80,61.00 63.10,60.20 67.10,60.90 71.10,63.60 75.20,62.20 79.20,61.50 84.60,64.20 86.60,71.60 90.00,73.50 103.50,73.50 105.40,71.10 103.80,74.50 95.40,74.00 80.00,75.50 70.00,76.00 62.00,76.00" fill="#7bccc4" /><polygon points="65.80,66.80 76.50,61.40 79.20,65.50 67.10,74.90 61.70,77.60 62.00,72.00" fill="#ccebc5" /><polygon points="61.00,60.70 64.40,60.70 64.40,66.80 61.00,66.80" fill="#2b8cbe" /><polygon points="53.60,68.20 55.00,64.80 60.40,64.10 62.00,72.00 61.70,77.60 60.00,82.00 55.00,80.30" fill="#7bccc4" /><polygon points="56.00,68.80 61.50,69.00 62.50,80.30 55.50,80.30" fill="#2b8cbe" /><polygon points="59.70,80.30 65.80,80.30 65.80,89.00 59.70,89.00" fill="#2b8cbe" /><polygon points="71.10,74.90 79.20,74.90 84.60,73.50 90.00,73.50 92.70,74.20 92.00,85.60 77.90,84.30 67.10,80.30" fill="#f7fcf0" /><polygon points="53.60,80.00 59.70,80.00 59.70,92.00 54.70,92.00 54.70,85.00" fill="#7bccc4" /><polygon points="65.80,81.60 73.80,81.60 73.80,92.00 65.80,92.00" fill="#7bccc4" /><polygon points="92.00,74.20 105.50,74.20 104.80,84.00 100.00,84.30 100.00,92.00 90.00,92.00" fill="#ccebc5" /><polygon points="100.00,84.30 110.20,84.30 110.20,92.00 100.00,92.00" fill="#2b8cbe" /><polygon points="110.20,81.60 133.00,81.60 133.00,92.00 110.20,92.00" fill="#7bccc4" /><polygon points="131.00,52.00 138.50,52.00 138.50,83.00 131.00,83.00" fill="#ccebc5" /><polygon points="103.50,52.00 108.80,52.00 108.80,54.70 103.50,54.70" fill="#ccebc5" /><polygon points="145.00,77.60 159.30,77.60 159.30,92.00 145.00,92.00" fill="#ccebc5" /><polygon points="73.80,81.60 83.00,81.60 83.00,92.00 73.80,92.00" fill="#ccebc5" /><polygon points="21.50,116.00 28.00,110.00 35.00,104.00 38.20,102.00 46.90,101.20 51.40,100.60 53.60,106.80 54.30,110.80 57.00,114.90 61.70,117.60 66.40,118.20 60.40,117.60 55.00,118.20 46.90,118.20 40.20,120.30 36.80,123.00 32.80,120.30 25.40,118.20" fill="#2b8cbe" /><polygon points="28.50,109.50 35.50,103.20 37.50,102.60 31.00,109.80" fill="#ccebc5" /><polygon points="51.40,92.00 68.50,92.00 68.50,101.00 51.40,101.00" fill="#7bccc4" /><polygon points="56.00,94.00 62.00,94.00 62.00,99.00 56.00,99.00" fill="#ccebc5" /><polygon points="62.50,92.50 66.50,92.50 66.50,97.00 62.50,97.00" fill="#f7fcf0" /><polygon points="64.00,100.00 84.00,100.00 84.00,126.00 64.00,126.00" fill="#2b8cbe" /><polygon points="84.00,92.00 125.00,92.00 125.00,105.00 84.00,105.00" fill="#7bccc4" /><polygon points="53.60,106.80 57.00,105.50 61.70,105.50 67.10,106.80 68.50,108.50 71.80,113.50 69.80,116.90 65.80,118.20 61.70,117.60 57.00,114.90 54.30,110.80" fill="#084081" /><polygon points="72.00,104.50 76.50,104.00 79.50,105.00 79.50,115.00 74.50,113.80 72.30,110.50" fill="#084081" /><polygon points="79.50,105.00 82.00,106.00 82.50,111.00 81.50,115.00 79.50,115.00" fill="#2b8cbe" /><polygon points="69.80,99.40 72.50,99.40 72.50,105.50 69.80,105.50" fill="#084081" /><polygon points="69.00,116.00 75.00,114.00 80.00,118.00 82.00,126.00 77.00,128.00 72.00,122.00" fill="#7bccc4" /><polygon points="76.00,117.00 79.00,117.00 80.00,121.00 77.00,121.00" fill="#ccebc5" /><polygon points="100.00,92.00 105.50,92.00 105.50,98.00 100.00,98.00" fill="#2b8cbe" /><polygon points="104.00,102.00 108.00,102.00 108.00,106.00 104.00,106.00" fill="#2b8cbe" /><polygon points="110.00,104.80 114.00,104.80 114.00,107.50 110.00,107.50" fill="#2b8cbe" /><polygon points="126.30,100.00 129.00,100.00 129.00,102.80 126.30,102.80" fill="#2b8cbe" /><polygon points="95.40,106.80 97.40,106.80 97.40,110.20 95.40,110.20" fill="#084081" /><polygon points="125.00,92.00 135.80,92.00 135.80,105.50 125.00,105.50" fill="#ccebc5" /><polygon points="137.00,96.00 146.50,96.00 146.50,105.50 137.00,105.50" fill="#7bccc4" /><polygon points="130.00,83.00 146.00,83.00 147.00,92.00 146.50,96.00 136.00,96.00 130.00,92.00" fill="#f7fcf0" /><polygon points="146.50,79.00 158.50,79.00 158.50,97.00 147.00,97.00" fill="#ccebc5" /><polygon points="146.50,92.00 159.00,92.00 158.00,100.00 157.30,106.00 156.00,112.00 146.50,112.00" fill="#ccebc5" /><polygon points="153.30,100.00 158.50,100.00 157.60,106.70 156.00,110.80 153.30,110.80" fill="#7bccc4" /><polygon points="135.80,113.50 147.90,113.50 149.60,124.20 147.90,128.30 135.80,128.30" fill="#7bccc4" /><polygon points="130.40,109.50 138.50,109.50 138.50,119.00 130.40,119.00" fill="#ccebc5" /><polygon points="84.00,105.00 93.00,105.00 93.00,116.00 84.00,116.00" fill="#7bccc4" /><polygon points="75.40,125.00 83.50,125.00 83.50,135.80 78.00,135.80" fill="#7bccc4" /><polygon points="80.00,136.40 82.80,136.40 82.80,139.10 80.00,139.10" fill="#084081" /><polygon points="81.40,138.50 86.20,138.50 86.20,145.20 81.40,145.20" fill="#2b8cbe" /><polygon points="83.50,141.00 88.80,141.00 88.80,149.20 83.50,149.20" fill="#7bccc4" /><polygon points="78.70,148.60 90.20,148.60 90.20,156.60 84.40,155.30 80.40,154.00 79.00,151.20" fill="#2b8cbe" /><polygon points="80.00,149.50 86.00,149.20 86.00,154.50 81.00,153.50" fill="#084081" /><polygon points="103.60,138.50 121.00,138.50 121.00,152.00 103.60,152.00" fill="#7bccc4" /><polygon points="109.00,152.00 114.40,152.00 114.40,155.30 109.00,155.30" fill="#2b8cbe" /><polygon points="119.80,130.40 126.50,130.40 126.50,138.50 119.80,138.50" fill="#ccebc5" /><polygon points="83.30,116.70 85.00,111.50 87.40,109.70 93.50,109.70 93.80,102.00 96.00,100.50 99.00,101.50 101.50,108.50 106.00,110.00 110.00,110.50 113.20,110.00 116.00,107.50 120.00,106.00 123.80,104.40 127.30,104.00 130.00,106.00 133.00,110.00 134.30,114.00 133.50,118.00 129.00,121.50 125.50,124.30 124.70,125.00 123.40,128.70 122.80,133.70 121.00,137.40 117.20,139.90 112.30,140.50 107.30,141.10 104.20,143.60 104.80,149.80 106.00,153.60 104.80,156.70 99.80,156.00 98.00,154.20 93.60,151.70 92.40,149.80 92.40,139.90 85.00,138.70 84.30,132.50 83.70,125.00" fill="#f7fcf0" /><polygon points="84.00,126.00 92.00,126.00 92.00,139.00 84.00,139.00" fill="#ccebc5" /><polygon points="97.00,112.00 103.00,112.00 103.00,118.00 97.00,118.00" fill="#ccebc5" /><polygon points="88.00,118.00 92.00,118.00 92.00,124.00 88.00,124.00" fill="#7bccc4" /><polygon points="112.00,118.00 118.00,118.00 118.00,124.00 112.00,124.00" fill="#ccebc5" /><polygon points="100.00,128.00 106.00,128.00 106.00,134.00 100.00,134.00" fill="#ccebc5" /><polygon points="143.50,109.00 149.00,106.70 155.50,108.50 156.30,113.00 154.00,118.50 149.00,119.50 144.00,116.00 146.00,112.00" fill="#ccebc5" /><polygon points="25.70,16.30 41.80,16.30 41.80,22.50 38.20,24.80 41.50,26.00 41.80,38.20 35.90,38.20" fill="#c4c4c4" /><polygon points="107.20,14.40 147.90,13.90 147.90,21.70 134.40,21.70 134.40,20.30 116.00,20.30 116.00,21.70 107.20,21.70" fill="#c4c4c4" /><polygon points="154.00,67.50 159.30,67.00 159.30,82.30 156.00,82.30 153.30,80.00 153.00,72.00" fill="#c4c4c4" /><polygon points="48.90,70.20 52.00,69.80 55.00,72.50 55.20,80.30 53.60,81.00" fill="#c4c4c4" /><polygon points="136.10,126.20 148.50,126.50 148.90,128.90 136.10,129.00" fill="#c4c4c4" /><path d="M118.5,108.0L119.9,105.0L119.7,104.3L116.8,102.7L113.5,103.9L113.2,106.3ZM101.4,142.3L100.3,141.1L96.2,142.1L97.8,146.8L99.2,146.2ZM112.6,126.0L113.7,128.7L114.5,129.0L116.7,125.0L113.5,123.0ZM94.6,111.8L95.6,112.3L98.2,109.2L98.2,107.8L97.8,106.7L95.5,104.7L94.1,105.3L92.0,108.3L92.0,108.4ZM87.8,115.4L86.8,113.3L84.8,115.3L84.1,117.7L85.9,117.9L87.8,115.6ZM92.0,156.2L89.3,154.9L87.9,157.0L88.5,157.3L91.1,160.7L93.0,161.3L93.2,161.3ZM100.7,118.3L96.2,115.0L96.2,116.0L97.2,117.3L100.4,119.1L100.7,119.0ZM96.4,113.9L96.2,114.9L96.2,115.0L100.7,118.3L102.1,115.3L101.1,113.9ZM83.1,133.3L80.8,132.2L78.6,133.7L79.7,135.8L80.5,138.2L82.6,138.1L82.8,136.8ZM113.5,123.0L116.7,125.0L117.0,125.0L118.9,121.2L115.0,121.0L113.1,122.0ZM95.6,140.2L95.7,140.1L96.7,136.6L95.5,135.4L95.4,135.4L92.2,137.2L92.3,137.5L93.6,139.2ZM68.1,92.9L71.0,96.4L72.8,96.1L72.9,94.6L71.0,91.5ZM125.7,126.2L123.6,126.2L121.5,131.8L126.3,133.5L129.3,132.4ZM95.0,120.0L94.4,120.3L96.1,124.1L96.4,124.2L98.3,123.0ZM106.1,110.6L106.2,109.5L104.7,106.3L104.0,105.9L103.1,106.9L101.4,110.4L102.0,111.6ZM87.8,115.6L85.9,117.9L86.7,119.7L89.2,118.1Z" fill="#7bccc4" stroke="#7bccc4" stroke-width="0.25"/><path d="M104.8,128.4L105.0,129.5L109.1,132.3L109.5,132.2L110.5,129.9L108.2,126.3L107.5,125.7ZM89.6,118.3L91.1,115.6L91.0,115.3L87.8,115.4L87.8,115.6L89.2,118.1ZM88.6,128.1L86.4,127.2L85.8,129.4L86.1,130.3L87.9,131.3L88.2,131.2L89.0,130.4ZM129.5,117.5L131.6,117.8L132.1,116.1L128.9,115.2ZM73.5,103.6L73.8,103.8L74.7,102.5L75.3,98.4L75.0,97.2L72.8,96.1L71.0,96.4L70.4,98.2L70.3,99.2L72.5,99.2L72.5,99.2L72.5,99.2L72.6,99.2L72.6,99.2L72.6,99.2L72.6,99.2L72.6,99.2L72.6,99.3L72.7,99.3L72.7,99.3L72.7,99.3L72.7,99.3L72.7,99.3L72.7,99.4L72.7,99.4L72.7,99.4L72.7,102.7ZM84.5,123.2L87.0,121.2L86.6,120.1L82.8,119.8ZM75.0,97.2L75.3,98.4L80.8,97.2L81.2,96.7L80.6,95.2L79.5,94.6L78.4,94.5L75.8,96.0ZM67.9,92.9L66.6,96.0L70.4,98.2L71.0,96.4L68.1,92.9ZM87.4,136.0L87.2,135.9L83.9,138.7L84.7,140.7L87.1,142.2L88.2,141.4L87.7,136.9ZM102.0,111.6L101.4,110.4L98.2,109.2L95.6,112.3L96.4,113.9L101.1,113.9L101.9,112.1ZM97.2,117.3L98.3,119.9L98.9,120.0L100.4,119.1ZM108.3,105.4L104.7,106.3L106.2,109.5L111.6,107.9ZM62.7,91.6L60.5,96.3L64.7,98.6L66.6,96.0L67.9,92.9L64.7,90.1L64.3,90.3ZM97.4,100.5L95.5,104.7L97.8,106.7L100.1,105.2ZM127.7,90.9L133.8,92.1L136.6,90.6L136.6,88.1L128.3,86.5ZM112.1,109.6L110.9,112.5L114.6,115.3L116.1,113.6L116.3,111.4ZM89.2,141.2L88.2,141.4L87.1,142.2L87.0,142.7L88.0,145.6L88.4,145.9L92.3,145.4L92.4,145.3L92.4,143.3L89.9,141.5ZM71.0,91.5L72.9,94.6L74.8,93.3L74.9,92.3L72.8,89.9ZM136.6,88.1L136.6,90.6L137.1,91.3L139.6,92.4L142.0,92.3L147.7,89.6L145.8,86.3L138.0,86.0L137.5,85.8ZM100.7,129.2L99.8,129.2L99.1,130.1L101.2,132.7L101.7,132.7L103.0,132.4ZM98.3,123.0L96.4,124.2L97.0,125.8L99.3,126.5L99.8,126.0L99.8,123.6L98.5,122.9ZM118.8,126.0L122.4,125.1L121.5,119.6L118.9,121.2L117.0,125.0ZM88.8,112.2L91.6,113.4L94.6,111.8L92.0,108.4ZM92.2,137.2L95.4,135.4L94.0,133.8L92.7,133.3L90.7,135.5ZM81.8,89.2L83.5,90.9L85.7,91.1L89.6,88.4L90.0,86.4L89.4,84.5L82.2,82.8L81.0,84.2L80.6,85.1ZM74.7,102.5L79.5,100.8L80.8,97.2L75.3,98.4ZM89.9,132.7L88.2,131.2L87.9,131.3L86.5,134.9L86.6,135.0L87.2,135.9L87.4,136.0L90.3,135.4ZM103.0,147.2L105.7,144.2L105.7,143.9L103.3,142.0L101.4,142.3L99.2,146.2ZM105.7,115.6L106.2,116.1L110.9,119.1L111.0,118.9L109.1,113.4L107.6,113.3L106.8,114.1ZM99.8,123.6L101.1,123.2L102.4,120.4L100.7,119.0L100.4,119.1L98.9,120.0L98.5,122.9ZM99.8,126.0L102.3,126.5L102.7,124.5L101.1,123.2L99.8,123.6ZM87.9,131.3L86.1,130.3L83.2,133.3L86.5,134.9ZM92.0,108.3L88.5,107.0L83.9,109.2L83.5,109.6L86.7,112.9L88.8,112.2L92.0,108.4ZM86.2,126.3L89.8,125.9L88.6,123.7L85.9,125.9ZM83.5,90.9L80.6,95.2L81.2,96.7L81.4,96.8L86.4,94.5L85.7,91.1ZM89.8,121.8L91.3,126.4L93.0,125.7L93.1,125.5L91.8,120.6ZM97.8,146.8L97.4,147.3L96.9,150.5L97.2,151.2L98.4,151.8L102.4,150.7L104.0,149.4L103.0,147.2L99.2,146.2ZM145.2,95.1L150.6,95.7L151.6,93.8L151.6,93.5L150.4,91.4L147.7,89.6L142.0,92.3ZM94.0,133.8L95.0,131.5L94.4,130.2L92.7,130.5L92.4,131.5L92.7,133.3ZM78.4,94.5L79.5,94.6L79.0,90.7L77.9,90.6L76.8,92.4ZM87.7,136.9L88.2,141.4L89.2,141.2L90.8,138.9ZM93.1,120.5L94.4,120.3L95.0,120.0L95.0,120.0L96.2,116.0L96.2,115.0L96.2,114.9L92.4,116.7L91.8,120.2L91.9,120.5ZM96.2,142.1L100.3,141.1L99.9,139.6L99.2,139.2L95.7,140.1L95.6,140.2L95.7,141.6ZM97.9,132.9L99.1,133.7L101.2,132.7L99.1,130.1L98.3,130.5ZM95.4,128.4L95.4,129.2L98.3,130.5L99.1,130.1L99.8,129.2L99.3,127.7L95.8,128.0ZM74.8,93.3L75.8,96.0L78.4,94.5L76.8,92.4L74.9,92.3ZM85.9,117.9L84.1,117.7L81.5,118.3L81.5,118.6L82.8,119.8L86.6,120.1L86.7,119.7Z" fill="#ccebc5" stroke="#ccebc5" stroke-width="0.25"/><path d="M88.1,152.1L89.1,153.2L93.9,150.7L91.8,148.3L89.0,148.6ZM89.9,141.5L92.4,143.3L92.9,143.0L92.7,140.4Z" fill="#2b8cbe" stroke="#2b8cbe" stroke-width="0.25"/><use href="#lines"/><use href="#gmesh"/><use href="#rmesh"/></g><polygon points="25.70,16.30 90.00,15.40 158.80,13.30 159.00,40.00 159.20,67.00 159.30,82.00 159.00,100.00 157.60,106.70 155.60,113.40 154.30,117.50 152.30,120.80 149.60,124.20 148.20,126.90 148.90,128.90 136.10,129.00 132.80,129.20 129.40,132.30 126.30,133.50 123.60,138.50 119.00,142.50 115.60,149.20 111.50,152.00 106.20,155.50 102.60,157.80 99.20,159.50 96.50,161.30 93.00,161.30 91.10,160.70 88.50,157.30 84.40,155.30 80.40,154.00 79.00,151.20 80.40,148.60 81.70,145.20 81.00,139.80 79.70,135.80 77.50,131.50 75.50,128.50 72.50,124.30 69.80,121.00 66.40,118.20 60.40,117.60 55.00,118.20 46.90,118.20 40.20,120.30 36.80,123.00 32.80,120.30 25.40,118.20 21.50,116.00 28.00,110.00 35.00,104.00 38.20,102.00 46.90,101.20 51.40,100.60 51.40,91.70 54.70,90.90 54.70,85.00 53.90,81.70 53.00,80.00 48.90,70.20 40.20,52.00 35.90,38.20" fill="none" stroke="#c8c8c8" stroke-width="0.5"/></g><g transform="translate(330,0)"><polygon points="25.70,16.30 90.00,15.40 158.80,13.30 159.00,40.00 159.20,67.00 159.30,82.00 159.00,100.00 157.60,106.70 155.60,113.40 154.30,117.50 152.30,120.80 149.60,124.20 148.20,126.90 148.90,128.90 136.10,129.00 132.80,129.20 129.40,132.30 126.30,133.50 123.60,138.50 119.00,142.50 115.60,149.20 111.50,152.00 106.20,155.50 102.60,157.80 99.20,159.50 96.50,161.30 93.00,161.30 91.10,160.70 88.50,157.30 84.40,155.30 80.40,154.00 79.00,151.20 80.40,148.60 81.70,145.20 81.00,139.80 79.70,135.80 77.50,131.50 75.50,128.50 72.50,124.30 69.80,121.00 66.40,118.20 60.40,117.60 55.00,118.20 46.90,118.20 40.20,120.30 36.80,123.00 32.80,120.30 25.40,118.20 21.50,116.00 28.00,110.00 35.00,104.00 38.20,102.00 46.90,101.20 51.40,100.60 51.40,91.70 54.70,90.90 54.70,85.00 53.90,81.70 53.00,80.00 48.90,70.20 40.20,52.00 35.90,38.20" fill="#f7fcf0"/><g clip-path="url(#cclip)"><polygon points="20.00,10.00 165.00,10.00 165.00,170.00 20.00,170.00" fill="#7bccc4" /><polygon points="25.70,16.30 41.80,16.30 38.20,24.80 42.20,25.50 48.30,23.80 52.30,26.10 59.00,21.70 60.40,24.80 65.10,28.80 73.20,29.20 76.50,33.50 81.20,32.20 83.30,34.90 90.00,36.90 90.00,44.00 35.90,38.20" fill="#ccebc5" /><polygon points="41.80,16.30 90.00,15.40 104.50,15.00 104.50,37.00 99.50,39.50 97.00,37.50 90.00,36.90 83.30,34.90 81.20,32.20 76.50,33.50 73.20,29.20 65.10,28.80 60.40,24.80 59.00,21.70 52.30,26.10 48.30,23.80 42.20,25.50 38.20,24.80 41.80,22.50" fill="#2b8cbe" /><polygon points="41.50,38.20 49.60,36.20 63.10,36.90 66.40,32.90 68.50,33.50 68.50,38.90 63.00,41.00 59.00,45.00 57.70,50.00 56.30,52.00 57.00,54.70 60.40,56.00 61.70,61.40 60.40,64.10 55.00,64.80 53.60,68.20 48.90,70.20 40.20,52.00 35.90,38.20" fill="#2b8cbe" /><polygon points="77.90,37.60 83.30,34.90 90.00,36.90 97.00,37.50 99.50,39.50 104.50,37.00 108.20,37.00 108.80,54.30 103.80,51.80 98.70,52.70 96.20,51.80 93.70,46.80 90.30,44.30 85.30,41.70 81.10,39.20" fill="#2b8cbe" /><polygon points="56.30,50.80 55.90,47.00 57.00,41.60 61.40,38.60 65.20,38.40 73.60,38.30 81.10,39.20 85.30,41.70 90.30,44.30 93.70,46.80 96.20,51.80 98.70,52.70 103.80,51.80 108.80,54.30 108.80,61.00 104.60,63.60 104.00,68.00 103.50,73.50 90.00,73.50 84.00,73.50 84.60,64.20 79.20,61.50 75.20,62.20 71.10,63.60 67.10,60.90 63.10,60.20 61.70,56.80 58.40,54.80" fill="#084081" /><polygon points="108.50,37.00 116.20,37.00 116.20,50.00 108.50,50.00" fill="#ccebc5" /><polygon points="96.70,50.00 109.50,50.00 109.50,53.40 96.70,53.40" fill="#2b8cbe" /><polygon points="73.30,62.70 84.00,62.70 84.00,77.50 73.30,77.50" fill="#2b8cbe" /><polygon points="53.00,66.70 62.50,64.00 67.90,68.00 77.30,62.70 81.30,64.00 72.00,73.50 65.20,77.50 61.20,77.50 58.50,72.10" fill="#7bccc4" /><polygon points="54.40,69.40 58.50,72.10 61.20,77.50 62.50,78.80 54.40,78.80" fill="#2b8cbe" /><polygon points="109.50,50.00 116.20,50.00 116.20,70.00 130.40,70.00 130.40,83.60 117.00,83.60 117.00,81.00 103.50,81.00 103.50,63.50 109.50,63.50" fill="#ccebc5" /><polygon points="131.70,51.30 138.50,51.30 138.50,83.60 131.70,83.60" fill="#2b8cbe" /><polygon points="138.50,60.80 151.90,62.00 151.90,70.00 150.00,78.00 146.50,86.30 137.00,86.30" fill="#f7fcf0" /><polygon points="151.90,67.50 160.00,67.50 160.00,82.30 151.90,82.30" fill="#ccebc5" /><polygon points="70.60,73.50 84.00,73.50 90.00,73.50 93.50,74.00 93.50,87.00 70.60,87.00" fill="#f7fcf0" /><polygon points="51.40,91.70 54.70,90.90 54.70,80.00 64.40,80.00 64.40,118.00 61.70,117.60 57.00,114.90 54.30,110.80 53.60,106.80 51.40,100.60" fill="#f7fcf0" /><polygon points="62.00,82.00 90.00,82.00 100.00,86.00 100.20,100.00 110.20,100.00 112.00,104.00 108.00,112.90 95.00,113.00 90.00,120.00 84.00,122.00 81.70,135.00 78.00,133.00 75.00,126.00 80.00,118.00 82.00,110.00 72.00,100.00 62.00,95.00" fill="#c4c4c4" /><polygon points="53.60,106.80 57.00,105.50 61.70,105.50 67.10,106.80 68.50,108.50 71.80,113.50 69.80,116.90 65.80,118.20 61.70,117.60 57.00,114.90 54.30,110.80" fill="#2b8cbe" /><polygon points="72.00,105.00 76.50,104.50 80.00,105.00 82.00,106.00 82.50,111.00 81.50,115.00 78.00,115.00 74.50,113.50 72.50,111.00" fill="#c4c4c4" /><polygon points="66.00,118.00 72.00,116.00 78.00,118.00 80.00,124.00 76.00,128.00 70.00,121.00" fill="#f7fcf0" /><polygon points="45.00,72.00 53.00,72.00 53.00,80.00 49.00,80.00" fill="#c4c4c4" /><polygon points="94.80,87.00 98.80,87.00 98.80,93.60 94.80,93.60" fill="#ccebc5" /><polygon points="99.60,84.50 104.00,84.00 108.70,86.00 108.70,98.00 104.00,97.50 101.00,92.00" fill="#2b8cbe" /><polygon points="108.70,83.00 136.00,83.00 136.00,98.00 108.70,98.00" fill="#7bccc4" /><polygon points="75.30,83.50 78.00,83.50 78.00,86.20 75.30,86.20" fill="#ccebc5" /><polygon points="75.20,84.00 77.90,84.00 77.90,86.70 75.20,86.70" fill="#ccebc5" /><polygon points="76.50,105.60 80.60,105.60 80.60,113.60 76.50,113.60" fill="#ccebc5" /><polygon points="131.70,83.60 146.50,83.60 146.50,90.00 131.70,90.00" fill="#f7fcf0" /><polygon points="21.50,116.00 28.00,110.00 35.00,104.00 38.20,102.00 46.90,101.20 51.40,100.60 53.60,106.80 54.30,110.80 57.00,114.90 61.70,117.60 66.40,118.20 60.40,117.60 55.00,118.20 46.90,118.20 40.20,120.30 36.80,123.00 32.80,120.30 25.40,118.20" fill="#2b8cbe" /><polygon points="30.50,108.50 35.50,104.20 36.80,105.50 32.00,109.50" fill="#7bccc4" /><polygon points="135.80,90.00 147.90,90.00 147.90,98.00 135.80,98.00" fill="#f7fcf0" /><polygon points="153.30,98.00 158.80,98.00 157.60,106.70 156.50,108.80 153.30,108.80" fill="#2b8cbe" /><polygon points="143.80,125.00 148.50,125.00 148.50,129.00 143.80,129.00" fill="#2b8cbe" /><polygon points="108.70,98.00 118.00,97.50 123.80,100.00 123.80,108.70 112.00,108.70" fill="#ccebc5" /><polygon points="122.30,92.00 131.40,92.00 131.40,104.00 122.30,104.00" fill="#ccebc5" /><polygon points="126.30,100.80 129.70,100.80 129.70,103.50 126.30,103.50" fill="#084081" /><polygon points="138.00,100.00 145.00,100.00 145.00,108.00 138.00,108.00" fill="#ccebc5" /><polygon points="118.00,102.00 124.00,102.00 124.00,106.00 118.00,106.00" fill="#f7fcf0" /><polygon points="76.70,140.20 91.80,140.20 91.80,148.60 76.70,148.60" fill="#ccebc5" /><polygon points="78.40,148.60 91.80,148.60 91.80,158.60 88.50,157.30 84.40,155.30 80.40,154.00 79.00,151.20" fill="#7bccc4" /><polygon points="78.40,133.50 83.40,133.50 83.40,140.20 78.40,140.20" fill="#7bccc4" /><polygon points="82.60,123.40 85.10,123.40 85.10,125.00 82.60,125.00" fill="#2b8cbe" /><polygon points="120.30,115.00 133.80,115.00 133.80,128.40 120.30,128.40" fill="#7bccc4" /><polygon points="83.30,116.70 85.00,111.50 87.40,109.70 93.50,109.70 93.80,102.00 96.00,100.50 99.00,101.50 101.50,108.50 106.00,110.00 110.00,110.50 113.20,110.00 116.00,107.50 120.00,106.00 123.80,104.40 127.30,104.00 130.00,106.00 133.00,110.00 134.30,114.00 133.50,118.00 129.00,121.50 125.50,124.30 124.70,125.00 123.40,128.70 122.80,133.70 121.00,137.40 117.20,139.90 112.30,140.50 107.30,141.10 104.20,143.60 104.80,149.80 106.00,153.60 104.80,156.70 99.80,156.00 98.00,154.20 93.60,151.70 92.40,149.80 92.40,139.90 85.00,138.70 84.30,132.50 83.70,125.00" fill="#f7fcf0" /><polygon points="83.00,110.00 95.00,110.00 95.00,122.00 83.00,122.00" fill="#c4c4c4" /><polygon points="93.50,102.00 96.00,100.50 99.00,101.50 101.50,108.50 106.00,110.00 110.00,110.50 112.00,112.00 100.00,114.00 93.00,112.00" fill="#c4c4c4" /><polygon points="95.00,118.00 101.00,118.00 101.00,124.00 95.00,124.00" fill="#ccebc5" /><polygon points="100.00,125.00 106.00,125.00 106.00,131.00 100.00,131.00" fill="#c4c4c4" /><polygon points="110.00,114.00 116.00,114.00 116.00,120.00 110.00,120.00" fill="#ccebc5" /><polygon points="86.00,126.00 90.00,126.00 90.00,132.00 86.00,132.00" fill="#7bccc4" /><polygon points="101.90,136.80 120.30,136.80 120.30,151.90 101.90,151.90" fill="#7bccc4" /><polygon points="93.50,149.40 100.20,149.40 100.20,153.60 93.50,153.60" fill="#c4c4c4" /><polygon points="84.00,132.00 92.00,132.00 92.00,139.00 84.00,139.00" fill="#ccebc5" /><polygon points="143.50,109.00 149.00,106.70 155.50,108.50 156.30,113.00 154.00,118.50 149.00,119.50 144.00,116.00 146.00,112.00" fill="#ccebc5" /><polygon points="107.20,14.40 147.90,13.90 147.90,21.70 134.40,21.70 134.40,20.30 116.00,20.30 116.00,21.70 107.20,21.70" fill="#c4c4c4" /><path d="M142.6,127.1L147.5,121.9L144.8,120.0L139.9,122.9ZM104.8,128.4L105.0,129.5L109.1,132.3L109.5,132.2L110.5,129.9L108.2,126.3L107.5,125.7ZM142.7,102.3L141.0,105.6L140.8,108.0L149.2,109.0L149.7,107.9L144.7,101.9ZM132.6,129.3L132.8,129.2L136.1,129.0L138.3,129.0L136.3,124.2L132.3,124.4ZM108.6,136.6L106.3,135.3L105.5,138.1L108.4,140.3ZM88.6,128.1L86.4,127.2L85.8,129.4L86.1,130.3L87.9,131.3L88.2,131.2L89.0,130.4ZM129.5,117.5L131.6,117.8L132.1,116.1L128.9,115.2ZM89.1,122.0L88.6,123.7L89.8,125.9L91.1,126.6L91.3,126.4L89.8,121.8ZM150.4,99.2L150.1,98.8L144.7,101.9L149.7,107.9L150.0,107.6ZM84.1,117.7L84.8,115.3L79.9,115.5L81.5,118.3ZM112.4,143.5L114.9,142.2L114.6,138.5L111.9,138.0L110.4,141.1ZM110.7,120.7L109.0,121.6L107.5,125.5L107.5,125.7L108.2,126.3L112.6,126.0L113.5,123.0L113.1,122.0ZM118.7,109.4L116.3,111.4L116.1,113.6L120.8,115.0L121.3,113.4L121.2,111.1ZM115.8,85.4L112.6,83.6L107.2,86.4L107.5,87.2L110.4,90.3L116.3,87.1ZM117.4,137.7L117.9,137.8L119.8,135.2L120.2,132.2L118.4,131.3L116.6,131.1L116.2,131.5L114.5,134.7ZM127.5,120.5L123.6,118.8L121.7,119.1L121.5,119.6L122.4,125.1L123.6,126.2L125.7,126.2L129.3,123.2ZM102.4,120.4L101.1,123.2L102.7,124.5L104.2,124.1L103.8,120.5ZM132.5,108.7L133.8,102.9L133.1,101.9L131.0,101.6L127.4,105.1L127.6,105.6ZM98.9,120.0L98.3,119.9L95.0,120.0L95.0,120.0L98.3,123.0L98.5,122.9ZM103.0,147.2L105.7,144.2L105.7,143.9L103.3,142.0L101.4,142.3L99.2,146.2ZM100.7,118.3L96.2,115.0L96.2,116.0L97.2,117.3L100.4,119.1L100.7,119.0ZM84.0,102.9L86.3,102.6L88.9,97.7L88.6,97.6L83.9,98.8L83.5,102.4ZM91.8,120.2L92.4,116.7L91.1,115.6L89.6,118.3ZM99.3,127.7L99.8,129.2L100.7,129.2L103.1,127.8L102.3,126.5L99.8,126.0L99.3,126.5ZM95.6,140.2L95.7,140.1L96.7,136.6L95.5,135.4L95.4,135.4L92.2,137.2L92.3,137.5L93.6,139.2ZM91.5,129.6L91.1,126.7L88.6,128.1L89.0,130.4ZM103.1,106.9L98.2,107.8L98.2,109.2L101.4,110.4ZM92.4,143.3L92.4,145.3L97.4,147.3L97.8,146.8L96.2,142.1L95.7,141.6L92.9,143.0ZM74.9,92.3L76.8,92.4L77.9,90.6L75.7,87.7L73.4,87.7L72.8,89.9ZM134.5,99.7L136.6,98.4L137.1,91.3L136.6,90.6L133.8,92.1L131.3,95.4ZM126.2,110.6L128.1,113.0L133.3,110.9L133.4,110.6L132.5,108.7L127.6,105.6ZM87.7,136.9L88.2,141.4L89.2,141.2L90.8,138.9ZM96.2,142.1L100.3,141.1L99.9,139.6L99.2,139.2L95.7,140.1L95.6,140.2L95.7,141.6ZM97.9,132.9L99.1,133.7L101.2,132.7L99.1,130.1L98.3,130.5Z" fill="#ccebc5" stroke="#ccebc5" stroke-width="0.25"/><path d="M101.4,142.3L100.3,141.1L96.2,142.1L97.8,146.8L99.2,146.2ZM110.3,132.8L109.5,132.2L109.1,132.3L106.3,135.0L106.3,135.3L108.6,136.6L111.8,137.0L112.1,135.5ZM101.2,132.7L99.1,133.7L99.5,135.8L100.8,136.1L101.7,132.7ZM87.4,136.0L87.2,135.9L83.9,138.7L84.7,140.7L87.1,142.2L88.2,141.4L87.7,136.9ZM91.6,113.4L88.8,112.2L86.7,112.9L86.8,113.3L87.8,115.4L91.0,115.3ZM106.8,114.1L107.6,113.3L106.1,110.6L102.0,111.6L101.9,112.1ZM103.0,132.4L101.7,132.7L100.8,136.1L101.6,136.6L104.2,133.9L103.2,132.4ZM97.4,100.5L95.5,104.7L97.8,106.7L100.1,105.2ZM91.8,148.3L93.9,150.7L96.9,150.5L97.4,147.3L92.4,145.3L92.3,145.4ZM114.5,134.7L116.2,131.5L110.3,132.8L112.1,135.5ZM103.3,142.0L104.3,138.7L101.9,137.5L99.9,139.6L100.3,141.1L101.4,142.3ZM98.3,123.0L96.4,124.2L97.0,125.8L99.3,126.5L99.8,126.0L99.8,123.6L98.5,122.9ZM92.2,137.2L95.4,135.4L94.0,133.8L92.7,133.3L90.7,135.5ZM91.9,120.5L91.8,120.2L89.6,118.3L89.2,118.1L86.7,119.7L86.6,120.1L87.0,121.2L89.1,122.0L89.8,121.8L91.8,120.6ZM89.9,132.7L88.2,131.2L87.9,131.3L86.5,134.9L86.6,135.0L87.2,135.9L87.4,136.0L90.3,135.4ZM85.9,125.9L88.6,123.7L89.1,122.0L87.0,121.2L84.5,123.2L84.1,124.3L84.1,124.3L85.3,125.5ZM113.5,123.0L116.7,125.0L117.0,125.0L118.9,121.2L115.0,121.0L113.1,122.0ZM100.8,136.1L99.5,135.8L98.2,136.7L99.2,139.2L99.9,139.6L101.9,137.5L101.6,136.6ZM104.8,128.4L103.1,127.8L100.7,129.2L103.0,132.4L103.2,132.4L105.0,129.5ZM101.6,136.6L101.9,137.5L104.3,138.7L105.5,138.1L106.3,135.3L106.3,135.0L104.2,133.9ZM96.2,116.0L95.0,120.0L98.3,119.9L97.2,117.3ZM123.4,105.8L119.9,105.0L118.5,108.0L118.7,109.4L121.2,111.1L123.3,110.0ZM108.2,126.3L110.5,129.9L113.7,128.7L112.6,126.0ZM109.0,121.6L108.1,121.1L104.5,120.1L103.8,120.5L104.2,124.1L107.5,125.5ZM96.1,124.1L94.8,124.6L93.1,125.5L93.0,125.7L95.4,128.4L95.8,128.0L97.0,125.8L96.4,124.2ZM93.1,120.5L94.4,120.3L95.0,120.0L95.0,120.0L96.2,116.0L96.2,115.0L96.2,114.9L92.4,116.7L91.8,120.2L91.9,120.5ZM87.8,115.6L85.9,117.9L86.7,119.7L89.2,118.1Z" fill="#c4c4c4" stroke="#c4c4c4" stroke-width="0.25"/><path d="M93.8,94.6L89.6,88.4L85.7,91.1L86.4,94.5L88.6,97.6L88.9,97.7L89.8,97.8L93.8,95.6ZM76.8,125.8L73.9,126.3L75.5,128.5L77.5,131.5L78.6,133.7L80.8,132.2L80.9,129.6L80.0,127.9ZM83.9,98.8L88.6,97.6L86.4,94.5L81.4,96.8ZM71.0,91.5L72.9,94.6L74.8,93.3L74.9,92.3L72.8,89.9ZM102.3,95.4L98.3,99.0L103.6,102.7L105.0,101.6L107.1,96.3ZM81.8,89.2L83.5,90.9L85.7,91.1L89.6,88.4L90.0,86.4L89.4,84.5L82.2,82.8L81.0,84.2L80.6,85.1ZM74.7,102.5L79.5,100.8L80.8,97.2L75.3,98.4ZM131.8,123.8L132.3,124.4L136.3,124.2L139.2,122.6L138.1,117.8L137.0,117.6L133.6,119.7ZM110.9,112.5L112.1,109.6L111.8,107.9L111.6,107.9L106.2,109.5L106.1,110.6L107.6,113.3L109.1,113.4ZM79.0,90.7L79.5,94.6L80.6,95.2L83.5,90.9L81.8,89.2ZM83.5,109.6L82.6,109.8L82.7,111.0L82.7,111.0L82.7,111.0L82.7,111.0L82.7,111.0L81.7,115.0L81.7,115.1L81.7,115.1L81.7,115.1L81.7,115.1L81.7,115.1L81.6,115.1L81.6,115.2L81.6,115.2L81.6,115.2L81.6,115.2L81.6,115.2L81.5,115.2L81.5,115.2L81.5,115.2L79.7,115.2L79.9,115.5L84.8,115.3L86.8,113.3L86.7,112.9Z" fill="#f7fcf0" stroke="#f7fcf0" stroke-width="0.25"/><path d="M105.0,129.5L103.2,132.4L104.2,133.9L106.3,135.0L109.1,132.3ZM121.2,111.1L121.3,113.4L127.2,113.7L128.0,113.1L128.1,113.0L126.2,110.6L123.3,110.0ZM91.1,126.6L89.8,125.9L86.2,126.3L86.4,127.2L88.6,128.1L91.1,126.7ZM92.9,143.0L95.7,141.6L95.6,140.2L93.6,139.2L92.7,140.4ZM105.7,115.6L106.2,116.1L110.9,119.1L111.0,118.9L109.1,113.4L107.6,113.3L106.8,114.1ZM93.1,125.5L94.8,124.6L93.1,120.5L91.9,120.5L91.8,120.6ZM95.4,135.4L95.5,135.4L96.8,133.4L95.0,131.5L94.0,133.8Z" fill="#7bccc4" stroke="#7bccc4" stroke-width="0.25"/><path d="M138.3,129.0L142.6,128.9L142.6,127.1L139.9,122.9L139.2,122.6L136.3,124.2Z" fill="#2b8cbe" stroke="#2b8cbe" stroke-width="0.25"/><use href="#lines"/><use href="#gmesh"/><use href="#rmesh"/></g><polygon points="25.70,16.30 90.00,15.40 158.80,13.30 159.00,40.00 159.20,67.00 159.30,82.00 159.00,100.00 157.60,106.70 155.60,113.40 154.30,117.50 152.30,120.80 149.60,124.20 148.20,126.90 148.90,128.90 136.10,129.00 132.80,129.20 129.40,132.30 126.30,133.50 123.60,138.50 119.00,142.50 115.60,149.20 111.50,152.00 106.20,155.50 102.60,157.80 99.20,159.50 96.50,161.30 93.00,161.30 91.10,160.70 88.50,157.30 84.40,155.30 80.40,154.00 79.00,151.20 80.40,148.60 81.70,145.20 81.00,139.80 79.70,135.80 77.50,131.50 75.50,128.50 72.50,124.30 69.80,121.00 66.40,118.20 60.40,117.60 55.00,118.20 46.90,118.20 40.20,120.30 36.80,123.00 32.80,120.30 25.40,118.20 21.50,116.00 28.00,110.00 35.00,104.00 38.20,102.00 46.90,101.20 51.40,100.60 51.40,91.70 54.70,90.90 54.70,85.00 53.90,81.70 53.00,80.00 48.90,70.20 40.20,52.00 35.90,38.20" fill="none" stroke="#c8c8c8" stroke-width="0.5"/></g><rect x="130.5" y="131.4" width="51.0" height="46.8" fill="#fff" fill-opacity="0.8" stroke="#e2e2e2" stroke-width="0.6" rx="1.2"/><circle cx="137" cy="135.6" r="1.25" fill="#f7fcf0" stroke="#d8d8d8" stroke-width="0.3"/><text x="146.1" y="137.6" font-size="6.2" fill="#222" style="white-space:pre" textLength="12.7" lengthAdjust="spacingAndGlyphs">0  -&#8201;5</text><circle cx="137" cy="143.5" r="1.25" fill="#ccebc5"/><text x="146.1" y="145.5" font-size="6.2" fill="#222" style="white-space:pre" textLength="16.1" lengthAdjust="spacingAndGlyphs">6  -&#8201;13</text><circle cx="137" cy="151.2" r="1.25" fill="#7bccc4"/><text x="146.1" y="153.2" font-size="6.2" fill="#222" style="white-space:pre" textLength="19.7" lengthAdjust="spacingAndGlyphs">14  -&#8201;23</text><circle cx="137" cy="158.8" r="1.25" fill="#2b8cbe"/><text x="146.1" y="160.8" font-size="6.2" fill="#222" style="white-space:pre" textLength="19.0" lengthAdjust="spacingAndGlyphs">24  -&#8201;33</text><circle cx="137" cy="166.4" r="1.25" fill="#084081"/><text x="146.1" y="168.4" font-size="6.2" fill="#222" style="white-space:pre" textLength="19.0" lengthAdjust="spacingAndGlyphs">34  -&#8201;73</text><text x="135.1" y="174.9" font-size="5.5" fill="#333" textLength="41.8" lengthAdjust="spacingAndGlyphs">[EVs / 1k Capita]</text><rect x="293.7" y="131.4" width="54.900000000000034" height="46.8" fill="#fff" fill-opacity="0.8" stroke="#e2e2e2" stroke-width="0.6" rx="1.2"/><circle cx="301.7" cy="135.6" r="1.25" fill="#f7fcf0" stroke="#d8d8d8" stroke-width="0.3"/><text x="312.0" y="137.6" font-size="6.2" fill="#222" style="white-space:pre" textLength="11.5" lengthAdjust="spacingAndGlyphs">0  -&#8201;3</text><circle cx="301.7" cy="143.5" r="1.25" fill="#ccebc5"/><text x="312.0" y="145.5" font-size="6.2" fill="#222" style="white-space:pre" textLength="11.5" lengthAdjust="spacingAndGlyphs">4  -&#8201;6</text><circle cx="301.7" cy="151.2" r="1.25" fill="#7bccc4"/><text x="312.0" y="153.2" font-size="6.2" fill="#222" style="white-space:pre" textLength="15.5" lengthAdjust="spacingAndGlyphs">7  -&#8201;10</text><circle cx="301.7" cy="158.8" r="1.25" fill="#2b8cbe"/><text x="312.0" y="160.8" font-size="6.2" fill="#222" style="white-space:pre" textLength="17.5" lengthAdjust="spacingAndGlyphs">11  -&#8201;17</text><circle cx="301.7" cy="166.4" r="1.25" fill="#084081"/><text x="312.0" y="168.4" font-size="6.2" fill="#222" style="white-space:pre" textLength="18.5" lengthAdjust="spacingAndGlyphs">18  -&#8201;29</text><text x="297.7" y="174.9" font-size="5.5" fill="#333" textLength="48.9" lengthAdjust="spacingAndGlyphs">[PHEVs / 1k Capita]</text><rect x="459.7" y="131.4" width="62.30000000000001" height="46.8" fill="#fff" fill-opacity="0.8" stroke="#e2e2e2" stroke-width="0.6" rx="1.2"/><circle cx="467.1" cy="135.6" r="1.25" fill="#f7fcf0" stroke="#d8d8d8" stroke-width="0.3"/><text x="476.2" y="137.6" font-size="6.2" fill="#222" style="white-space:pre" textLength="28.3" lengthAdjust="spacingAndGlyphs">0.00  -&#8201;0.03</text><circle cx="467.1" cy="143.5" r="1.25" fill="#ccebc5"/><text x="476.2" y="145.5" font-size="6.2" fill="#222" style="white-space:pre" textLength="28.3" lengthAdjust="spacingAndGlyphs">0.03  -&#8201;0.08</text><circle cx="467.1" cy="151.2" r="1.25" fill="#7bccc4"/><text x="476.2" y="153.2" font-size="6.2" fill="#222" style="white-space:pre" textLength="28.0" lengthAdjust="spacingAndGlyphs">0.08  -&#8201;0.15</text><circle cx="467.1" cy="158.8" r="1.25" fill="#2b8cbe"/><text x="476.2" y="160.8" font-size="6.2" fill="#222" style="white-space:pre" textLength="28.0" lengthAdjust="spacingAndGlyphs">0.15  -&#8201;0.25</text><circle cx="467.1" cy="166.4" r="1.25" fill="#084081"/><text x="476.2" y="168.4" font-size="6.2" fill="#222" style="white-space:pre" textLength="28.0" lengthAdjust="spacingAndGlyphs">0.25  -&#8201;0.36</text><text x="461.0" y="174.9" font-size="5.5" fill="#333" textLength="50.4" lengthAdjust="spacingAndGlyphs">[MW-AC / 1k Capita</text><text x="48.2" y="148.4" font-size="8.5" text-anchor="middle" fill="#222">EV</text><text x="48.0" y="156.8" font-size="8.5" text-anchor="middle" fill="#222">Adoption</text><text x="218.1" y="148.4" font-size="8.5" text-anchor="middle" fill="#222">PHEV</text><text x="218.0" y="156.8" font-size="8.5" text-anchor="middle" fill="#222">Adoption</text><text x="382.3" y="145.6" font-size="8.5" text-anchor="middle" fill="#222">Rooftop</text><text x="382.0" y="154.0" font-size="8.5" text-anchor="middle" fill="#222">Solar</text><text x="382.6" y="162.4" font-size="8.5" text-anchor="middle" fill="#222">Adoption</text><text x="8.9" y="13.3" font-size="9.6" fill="#222">a.</text><text x="171.4" y="13.3" font-size="9.6" fill="#222">b.</text><text x="338.6" y="13.4" font-size="9.6" fill="#222">c.</text><rect x="41.8" y="180.4" width="112.50000000000001" height="80.9" fill="#fff"/><path d="M47.50,180.4V261.3M57.55,180.4V261.3M67.60,180.4V261.3M77.65,180.4V261.3M87.70,180.4V261.3M97.75,180.4V261.3M107.80,180.4V261.3M117.85,180.4V261.3M127.90,180.4V261.3M137.95,180.4V261.3M148.00,180.4V261.3M41.8,255.50H154.3M41.8,235.83H154.3M41.8,216.17H154.3M41.8,196.50H154.3" stroke="#dcdcdc" stroke-width="0.6" fill="none"/><polygon points="46.60,238.30 98.00,246.20 149.50,254.30 149.50,258.20 98.00,249.40 46.60,242.60" fill="#a8a8a8" fill-opacity="0.6"/><path d="M50.90,230.80h1v1h-1zM56.40,227.10h1v1h-1zM58.50,223.70h1v1h-1zM58.80,228.20h1v1h-1zM65.20,222.40h1v1h-1zM71.60,222.10h1v1h-1zM69.50,227.10h1v1h-1zM56.90,234.20h1v1h-1zM58.00,233.50h1v1h-1zM61.90,232.70h1v1h-1zM68.70,235.00h1v1h-1zM70.60,234.20h1v1h-1zM72.20,238.20h1v1h-1zM79.80,239.50h1v1h-1zM82.90,237.40h1v1h-1zM84.50,238.20h1v1h-1zM86.90,237.90h1v1h-1zM88.50,240.10h1v1h-1zM84.20,242.10h1v1h-1zM90.80,243.70h1v1h-1zM92.40,235.00h1v1h-1zM94.00,233.80h1v1h-1zM95.50,233.10h1v1h-1zM94.00,241.40h1v1h-1zM59.20,243.70h1v1h-1zM62.40,246.90h1v1h-1zM65.50,245.30h1v1h-1zM67.90,247.70h1v1h-1zM73.50,246.10h1v1h-1zM75.80,247.70h1v1h-1zM58.90,251.60h1v1h-1zM57.20,254.00h1v1h-1zM66.40,250.80h1v1h-1zM67.60,253.20h1v1h-1zM73.50,253.20h1v1h-1zM79.00,253.20h1v1h-1zM80.50,254.00h1v1h-1zM85.30,251.60h1v1h-1zM88.50,254.00h1v1h-1zM91.60,250.80h1v1h-1zM94.80,254.80h1v1h-1zM77.40,248.50h1v1h-1zM81.40,246.90h1v1h-1zM85.30,248.50h1v1h-1zM88.50,246.10h1v1h-1zM81.70,184.20h1v1h-1zM95.30,233.10h1v1h-1zM106.80,238.20h1v1h-1zM104.30,241.40h1v1h-1zM112.70,244.20h1v1h-1zM101.60,245.30h1v1h-1zM118.20,247.70h1v1h-1zM114.20,248.50h1v1h-1zM67.50,248.17h1v1h-1zM89.50,251.76h1v1h-1zM108.58,243.45h1v1h-1zM94.79,249.86h1v1h-1zM108.79,251.39h1v1h-1zM103.14,245.33h1v1h-1zM62.17,237.68h1v1h-1zM81.96,248.45h1v1h-1zM91.92,249.58h1v1h-1zM106.84,252.25h1v1h-1zM121.05,248.94h1v1h-1zM80.95,250.09h1v1h-1zM103.71,246.81h1v1h-1zM89.21,248.42h1v1h-1zM68.55,243.46h1v1h-1zM92.45,249.44h1v1h-1zM80.56,245.36h1v1h-1zM97.65,248.41h1v1h-1zM74.53,245.26h1v1h-1zM109.70,252.62h1v1h-1zM75.10,249.50h1v1h-1zM123.13,250.26h1v1h-1zM85.46,250.80h1v1h-1zM75.62,239.92h1v1h-1zM80.86,250.86h1v1h-1zM123.19,248.24h1v1h-1zM96.58,250.88h1v1h-1zM105.12,242.79h1v1h-1zM104.47,250.82h1v1h-1zM97.20,251.90h1v1h-1zM70.02,240.79h1v1h-1zM111.09,251.40h1v1h-1zM95.49,245.46h1v1h-1zM86.69,248.65h1v1h-1zM86.96,239.22h1v1h-1zM92.51,252.03h1v1h-1zM120.42,249.11h1v1h-1zM122.04,246.32h1v1h-1zM113.56,252.69h1v1h-1zM92.59,240.32h1v1h-1zM98.26,248.75h1v1h-1zM98.95,242.25h1v1h-1zM86.76,250.35h1v1h-1zM72.77,247.99h1v1h-1zM104.20,251.68h1v1h-1zM121.07,245.90h1v1h-1zM79.80,250.28h1v1h-1zM96.03,245.32h1v1h-1zM88.36,248.02h1v1h-1zM125.38,252.51h1v1h-1zM117.87,253.04h1v1h-1zM73.09,248.09h1v1h-1zM96.16,249.61h1v1h-1zM88.40,239.50h1v1h-1zM104.44,251.23h1v1h-1zM106.64,244.87h1v1h-1zM110.53,243.83h1v1h-1zM94.76,245.49h1v1h-1zM117.33,246.21h1v1h-1zM62.15,247.26h1v1h-1zM105.52,251.56h1v1h-1zM117.57,245.21h1v1h-1zM97.69,250.99h1v1h-1zM104.46,252.47h1v1h-1zM92.48,248.21h1v1h-1zM116.38,249.90h1v1h-1zM86.83,251.31h1v1h-1zM67.00,243.82h1v1h-1zM123.01,251.71h1v1h-1zM118.68,252.66h1v1h-1zM86.27,248.68h1v1h-1zM92.92,249.43h1v1h-1zM62.85,248.82h1v1h-1zM89.67,251.74h1v1h-1zM118.22,253.49h1v1h-1zM72.71,247.53h1v1h-1zM101.64,250.10h1v1h-1zM88.33,245.27h1v1h-1zM90.64,248.90h1v1h-1zM84.43,247.33h1v1h-1zM106.23,250.20h1v1h-1zM89.58,248.09h1v1h-1zM71.46,246.23h1v1h-1zM124.67,248.42h1v1h-1zM74.63,249.83h1v1h-1zM114.03,246.73h1v1h-1zM91.45,250.61h1v1h-1zM119.74,247.94h1v1h-1zM74.12,247.08h1v1h-1zM119.62,251.51h1v1h-1zM82.76,247.08h1v1h-1zM112.41,244.20h1v1h-1zM86.36,248.70h1v1h-1zM109.36,248.88h1v1h-1zM117.01,245.10h1v1h-1zM111.30,249.71h1v1h-1zM96.62,241.11h1v1h-1zM124.98,251.93h1v1h-1zM117.83,254.31h1v1h-1zM87.35,250.92h1v1h-1zM89.14,250.25h1v1h-1zM121.85,247.54h1v1h-1zM83.16,239.67h1v1h-1zM90.39,251.36h1v1h-1zM113.13,249.62h1v1h-1zM100.93,248.42h1v1h-1zM88.43,251.17h1v1h-1zM103.29,252.26h1v1h-1zM81.32,248.16h1v1h-1zM99.59,251.14h1v1h-1z" fill="#fff" fill-opacity="0.5" stroke="#555" stroke-width="0.42"/><path d="M128.40,237.30h1.2v1.2h-1.2zM130.40,242.80h1.2v1.2h-1.2zM132.30,245.20h1.2v1.2h-1.2zM135.80,243.20h1.2v1.2h-1.2zM141.80,244.10h1.2v1.2h-1.2zM144.20,242.80h1.2v1.2h-1.2zM123.60,249.20h1.2v1.2h-1.2zM126.80,247.60h1.2v1.2h-1.2zM129.38,253.10h1.2v1.2h-1.2zM128.13,253.02h1.2v1.2h-1.2zM141.64,253.58h1.2v1.2h-1.2zM123.99,251.63h1.2v1.2h-1.2zM132.53,252.20h1.2v1.2h-1.2zM123.96,253.24h1.2v1.2h-1.2zM132.32,243.61h1.2v1.2h-1.2zM136.45,250.30h1.2v1.2h-1.2zM144.09,251.78h1.2v1.2h-1.2zM126.60,252.22h1.2v1.2h-1.2zM127.41,247.50h1.2v1.2h-1.2zM125.14,253.61h1.2v1.2h-1.2zM122.75,253.59h1.2v1.2h-1.2zM141.14,250.25h1.2v1.2h-1.2zM143.19,251.16h1.2v1.2h-1.2zM135.07,252.48h1.2v1.2h-1.2zM134.87,249.23h1.2v1.2h-1.2zM136.64,250.07h1.2v1.2h-1.2zM140.19,251.42h1.2v1.2h-1.2zM128.67,250.79h1.2v1.2h-1.2zM125.84,253.38h1.2v1.2h-1.2zM131.87,252.85h1.2v1.2h-1.2zM143.83,247.88h1.2v1.2h-1.2zM134.15,247.93h1.2v1.2h-1.2zM136.54,250.14h1.2v1.2h-1.2zM128.12,251.76h1.2v1.2h-1.2zM123.84,253.21h1.2v1.2h-1.2zM141.13,245.26h1.2v1.2h-1.2zM133.15,249.55h1.2v1.2h-1.2zM126.66,250.26h1.2v1.2h-1.2zM132.42,252.31h1.2v1.2h-1.2zM139.22,251.85h1.2v1.2h-1.2zM131.82,249.36h1.2v1.2h-1.2zM136.20,251.80h1.2v1.2h-1.2zM123.51,251.88h1.2v1.2h-1.2zM131.31,253.01h1.2v1.2h-1.2zM135.96,253.92h1.2v1.2h-1.2zM137.05,253.65h1.2v1.2h-1.2zM123.22,253.23h1.2v1.2h-1.2zM123.38,252.15h1.2v1.2h-1.2zM139.40,253.14h1.2v1.2h-1.2zM128.90,248.91h1.2v1.2h-1.2zM126.96,252.11h1.2v1.2h-1.2zM144.73,252.71h1.2v1.2h-1.2zM144.22,253.12h1.2v1.2h-1.2zM137.92,246.65h1.2v1.2h-1.2zM128.62,252.02h1.2v1.2h-1.2zM140.65,252.06h1.2v1.2h-1.2zM145.91,253.83h1.2v1.2h-1.2zM126.19,253.63h1.2v1.2h-1.2z" fill="#f11"/><line x1="46.6" y1="240.4" x2="149.5" y2="256.3" stroke="#303030" stroke-width="0.95"/><path d="M41.8,180.4H154.3V261.3H41.8" fill="none" stroke="#999" stroke-width="0.75"/><path d="M41.9,180.1V261.6" fill="none" stroke="#b4b4b4" stroke-width="1.3"/><path d="M47.50,261.3v1.3M57.55,261.3v1.3M67.60,261.3v1.3M77.65,261.3v1.3M87.70,261.3v1.3M97.75,261.3v1.3M107.80,261.3v1.3M117.85,261.3v1.3M127.90,261.3v1.3M137.95,261.3v1.3M148.00,261.3v1.3M41.8,255.50h-1.3M41.8,235.83h-1.3M41.8,216.17h-1.3M41.8,196.50h-1.3" stroke="#666" stroke-width="0.5"/><text x="39.8" y="258.00" font-size="7.0" text-anchor="end" fill="#222" color="#222">0</text><text x="39.8" y="238.33" font-size="7.0" text-anchor="end" fill="#222" color="#222">20</text><text x="39.8" y="218.67" font-size="7.0" text-anchor="end" fill="#222" color="#222">40</text><text x="39.8" y="199.00" font-size="7.0" text-anchor="end" fill="#222" color="#222">60</text><text transform="translate(45.19,266.84) rotate(45)" font-size="6.8" fill="#222">0</text><text transform="translate(53.41,266.84) rotate(45)" font-size="6.8" fill="#222">10</text><text transform="translate(63.46,266.84) rotate(45)" font-size="6.8" fill="#222">20</text><text transform="translate(73.51,266.84) rotate(45)" font-size="6.8" fill="#222">30</text><text transform="translate(83.56,266.84) rotate(45)" font-size="6.8" fill="#222">40</text><text transform="translate(93.61,266.84) rotate(45)" font-size="6.8" fill="#222">50</text><text transform="translate(103.66,266.84) rotate(45)" font-size="6.8" fill="#222">60</text><text transform="translate(113.71,266.84) rotate(45)" font-size="6.8" fill="#222">70</text><text transform="translate(123.76,266.84) rotate(45)" font-size="6.8" fill="#222">80</text><text transform="translate(133.81,266.84) rotate(45)" font-size="6.8" fill="#222">90</text><text transform="translate(142.52,266.84) rotate(45)" font-size="6.8" fill="#222">100</text><text transform="translate(29.0,220.85) rotate(-90)" font-size="6.8" text-anchor="middle" fill="#222">EVs / 1k Capita</text><text x="97.65" y="281.8" font-size="6.6" letter-spacing="0.12" text-anchor="middle" fill="#222">Mean CalEnviroScreen</text><text x="97.65" y="289.0" font-size="6.6" letter-spacing="0.12" text-anchor="middle" fill="#222">Percentile Score</text><rect x="210.5" y="181.1" width="112.30000000000001" height="79.9" fill="#fff"/><path d="M215.20,181.1V261.0M225.23,181.1V261.0M235.26,181.1V261.0M245.29,181.1V261.0M255.32,181.1V261.0M265.35,181.1V261.0M275.38,181.1V261.0M285.41,181.1V261.0M295.44,181.1V261.0M305.47,181.1V261.0M315.50,181.1V261.0M210.5,255.40H322.8M210.5,231.30H322.8M210.5,207.20H322.8M210.5,183.10H322.8" stroke="#dcdcdc" stroke-width="0.6" fill="none"/><polygon points="215.20,219.80 266.00,237.00 317.00,251.50 317.00,257.60 266.00,239.60 215.20,224.60" fill="#a8a8a8" fill-opacity="0.6"/><path d="M219.10,196.00h1v1h-1zM250.20,185.00h1v1h-1zM237.80,199.60h1v1h-1zM224.60,210.60h1v1h-1zM226.60,207.00h1v1h-1zM232.90,212.50h1v1h-1zM227.40,215.30h1v1h-1zM237.00,218.00h1v1h-1zM241.10,216.10h1v1h-1zM242.50,222.10h1v1h-1zM253.50,218.00h1v1h-1zM260.40,220.80h1v1h-1zM234.30,231.80h1v1h-1zM279.60,230.40h1v1h-1zM271.40,228.50h1v1h-1zM227.40,243.30h1v1h-1zM225.50,252.40h1v1h-1zM224.30,210.90h1v1h-1zM226.40,214.40h1v1h-1zM233.40,212.60h1v1h-1zM230.20,217.40h1v1h-1zM236.90,218.20h1v1h-1zM241.20,216.50h1v1h-1zM237.70,221.70h1v1h-1zM240.00,223.80h1v1h-1zM244.70,223.50h1v1h-1zM253.10,218.20h1v1h-1zM226.00,221.70h1v1h-1zM234.20,233.10h1v1h-1zM242.10,233.90h1v1h-1zM227.30,243.20h1v1h-1zM235.60,249.30h1v1h-1zM225.90,252.30h1v1h-1zM234.20,252.30h1v1h-1zM242.10,254.90h1v1h-1zM240.49,224.26h1v1h-1zM234.48,236.25h1v1h-1zM236.99,235.56h1v1h-1zM270.18,228.95h1v1h-1zM272.64,244.69h1v1h-1zM280.18,239.52h1v1h-1zM281.91,241.18h1v1h-1zM245.06,234.55h1v1h-1zM254.01,243.15h1v1h-1zM281.03,251.49h1v1h-1zM260.86,242.34h1v1h-1zM286.67,242.06h1v1h-1zM273.28,235.72h1v1h-1zM245.82,235.08h1v1h-1zM253.56,244.38h1v1h-1zM274.72,250.35h1v1h-1zM242.37,240.05h1v1h-1zM274.34,239.84h1v1h-1zM283.66,251.81h1v1h-1zM251.85,244.84h1v1h-1zM234.23,228.73h1v1h-1zM240.41,233.80h1v1h-1zM268.77,243.57h1v1h-1zM281.21,237.20h1v1h-1zM233.83,229.94h1v1h-1zM262.43,247.11h1v1h-1zM251.72,239.36h1v1h-1zM289.38,253.04h1v1h-1zM251.67,244.54h1v1h-1zM236.81,233.62h1v1h-1zM283.62,252.58h1v1h-1zM272.56,229.36h1v1h-1zM288.57,245.85h1v1h-1zM241.40,239.80h1v1h-1zM286.60,247.84h1v1h-1zM254.38,241.97h1v1h-1zM241.42,241.76h1v1h-1zM236.42,213.02h1v1h-1zM242.37,242.00h1v1h-1zM269.52,246.95h1v1h-1zM239.69,239.72h1v1h-1zM252.30,237.74h1v1h-1zM240.62,229.00h1v1h-1zM287.68,253.95h1v1h-1zM266.55,245.36h1v1h-1zM274.89,233.07h1v1h-1zM273.88,244.85h1v1h-1zM235.72,237.43h1v1h-1zM281.18,246.52h1v1h-1zM280.28,251.94h1v1h-1zM256.25,231.14h1v1h-1zM269.21,246.53h1v1h-1zM270.22,225.39h1v1h-1zM250.23,235.88h1v1h-1zM266.05,238.52h1v1h-1zM248.26,243.54h1v1h-1zM252.31,242.50h1v1h-1zM242.08,232.06h1v1h-1zM271.09,241.46h1v1h-1zM250.73,239.51h1v1h-1zM277.88,245.85h1v1h-1zM285.50,242.93h1v1h-1zM266.43,245.99h1v1h-1zM266.80,245.32h1v1h-1zM281.78,250.70h1v1h-1zM262.61,241.20h1v1h-1zM285.45,252.68h1v1h-1zM270.03,239.99h1v1h-1zM284.03,244.72h1v1h-1zM257.65,238.58h1v1h-1zM240.83,235.16h1v1h-1zM243.06,237.44h1v1h-1zM260.42,235.01h1v1h-1zM292.39,246.28h1v1h-1zM257.94,242.96h1v1h-1zM265.34,242.84h1v1h-1zM284.93,245.68h1v1h-1zM257.16,244.34h1v1h-1zM254.56,239.65h1v1h-1zM235.97,241.15h1v1h-1zM277.24,247.27h1v1h-1zM235.46,238.81h1v1h-1zM287.82,253.12h1v1h-1zM288.67,249.70h1v1h-1zM254.74,241.74h1v1h-1zM237.95,230.25h1v1h-1zM287.84,242.15h1v1h-1zM287.07,250.47h1v1h-1zM255.22,237.21h1v1h-1zM276.12,249.79h1v1h-1zM262.97,246.45h1v1h-1zM242.75,241.47h1v1h-1zM289.17,254.08h1v1h-1zM242.88,232.11h1v1h-1zM240.41,232.85h1v1h-1zM267.85,241.81h1v1h-1zM287.62,252.09h1v1h-1zM261.50,238.99h1v1h-1zM256.80,242.53h1v1h-1zM247.56,236.02h1v1h-1zM275.95,247.33h1v1h-1zM272.38,245.82h1v1h-1zM268.41,240.21h1v1h-1zM257.78,238.07h1v1h-1zM234.40,240.65h1v1h-1zM236.80,235.41h1v1h-1zM253.04,242.52h1v1h-1zM254.76,243.16h1v1h-1zM232.88,234.49h1v1h-1zM256.07,243.45h1v1h-1zM270.32,247.32h1v1h-1zM286.27,240.38h1v1h-1zM240.46,233.83h1v1h-1zM257.56,242.12h1v1h-1zM263.65,242.17h1v1h-1zM273.57,247.26h1v1h-1zM276.22,236.70h1v1h-1zM250.48,230.14h1v1h-1zM234.63,241.25h1v1h-1zM281.54,233.46h1v1h-1z" fill="#fff" fill-opacity="0.5" stroke="#555" stroke-width="0.42"/><path d="M295.20,227.50h1.2v1.2h-1.2zM298.40,237.40h1.2v1.2h-1.2zM301.40,239.40h1.2v1.2h-1.2zM305.40,240.40h1.2v1.2h-1.2zM309.80,235.80h1.2v1.2h-1.2zM312.40,234.90h1.2v1.2h-1.2zM299.40,244.40h1.2v1.2h-1.2zM304.40,246.40h1.2v1.2h-1.2zM303.50,248.46h1.2v1.2h-1.2zM291.44,251.53h1.2v1.2h-1.2zM294.44,249.10h1.2v1.2h-1.2zM295.61,249.05h1.2v1.2h-1.2zM296.24,251.12h1.2v1.2h-1.2zM308.69,252.79h1.2v1.2h-1.2zM293.35,251.44h1.2v1.2h-1.2zM311.30,252.83h1.2v1.2h-1.2zM292.16,250.01h1.2v1.2h-1.2zM303.27,252.90h1.2v1.2h-1.2zM297.43,252.77h1.2v1.2h-1.2zM310.07,249.51h1.2v1.2h-1.2zM312.06,249.18h1.2v1.2h-1.2zM291.15,248.61h1.2v1.2h-1.2zM309.10,251.22h1.2v1.2h-1.2zM304.30,251.23h1.2v1.2h-1.2zM309.72,245.93h1.2v1.2h-1.2zM293.49,251.47h1.2v1.2h-1.2zM304.93,246.20h1.2v1.2h-1.2zM296.97,251.22h1.2v1.2h-1.2zM311.16,254.03h1.2v1.2h-1.2zM295.31,251.36h1.2v1.2h-1.2zM296.70,235.39h1.2v1.2h-1.2zM313.41,253.12h1.2v1.2h-1.2zM308.19,254.31h1.2v1.2h-1.2zM306.94,253.26h1.2v1.2h-1.2zM294.55,252.24h1.2v1.2h-1.2zM300.72,252.49h1.2v1.2h-1.2zM309.33,243.26h1.2v1.2h-1.2zM313.00,249.09h1.2v1.2h-1.2zM294.55,245.29h1.2v1.2h-1.2zM292.60,251.75h1.2v1.2h-1.2zM297.88,251.14h1.2v1.2h-1.2zM307.45,247.62h1.2v1.2h-1.2zM302.25,240.85h1.2v1.2h-1.2zM296.96,247.61h1.2v1.2h-1.2zM297.02,243.22h1.2v1.2h-1.2zM288.95,247.22h1.2v1.2h-1.2zM304.71,245.48h1.2v1.2h-1.2zM294.29,252.44h1.2v1.2h-1.2zM301.83,253.68h1.2v1.2h-1.2zM295.04,245.50h1.2v1.2h-1.2zM296.04,252.90h1.2v1.2h-1.2zM303.42,250.20h1.2v1.2h-1.2zM297.14,244.72h1.2v1.2h-1.2zM292.81,250.07h1.2v1.2h-1.2zM306.19,253.41h1.2v1.2h-1.2zM304.85,253.24h1.2v1.2h-1.2zM313.28,250.38h1.2v1.2h-1.2zM292.34,251.48h1.2v1.2h-1.2zM310.80,247.18h1.2v1.2h-1.2zM310.05,242.63h1.2v1.2h-1.2zM313.16,254.51h1.2v1.2h-1.2zM302.65,243.86h1.2v1.2h-1.2zM296.59,254.41h1.2v1.2h-1.2zM300.87,253.61h1.2v1.2h-1.2zM295.66,251.16h1.2v1.2h-1.2zM291.51,253.56h1.2v1.2h-1.2zM292.82,249.62h1.2v1.2h-1.2zM297.55,254.21h1.2v1.2h-1.2z" fill="#f11"/><line x1="215.2" y1="222.2" x2="317" y2="255.4" stroke="#303030" stroke-width="0.95"/><path d="M210.5,181.1H322.8V261.0H210.5" fill="none" stroke="#999" stroke-width="0.75"/><path d="M210.6,180.79999999999998V261.3" fill="none" stroke="#b4b4b4" stroke-width="1.3"/><path d="M215.20,261.0v1.3M225.23,261.0v1.3M235.26,261.0v1.3M245.29,261.0v1.3M255.32,261.0v1.3M265.35,261.0v1.3M275.38,261.0v1.3M285.41,261.0v1.3M295.44,261.0v1.3M305.47,261.0v1.3M315.50,261.0v1.3M210.5,255.40h-1.3M210.5,231.30h-1.3M210.5,207.20h-1.3M210.5,183.10h-1.3" stroke="#666" stroke-width="0.5"/><text x="208.5" y="257.90" font-size="7.0" text-anchor="end" fill="#222" color="#222">0</text><text x="208.5" y="233.80" font-size="7.0" text-anchor="end" fill="#222" color="#222">10</text><text x="208.5" y="209.70" font-size="7.0" text-anchor="end" fill="#222" color="#222">20</text><text x="208.5" y="185.60" font-size="7.0" text-anchor="end" fill="#222" color="#222">30</text><text transform="translate(212.89,266.84) rotate(45)" font-size="6.8" fill="#222">0</text><text transform="translate(221.09,266.84) rotate(45)" font-size="6.8" fill="#222">10</text><text transform="translate(231.12,266.84) rotate(45)" font-size="6.8" fill="#222">20</text><text transform="translate(241.15,266.84) rotate(45)" font-size="6.8" fill="#222">30</text><text transform="translate(251.18,266.84) rotate(45)" font-size="6.8" fill="#222">40</text><text transform="translate(261.21,266.84) rotate(45)" font-size="6.8" fill="#222">50</text><text transform="translate(271.24,266.84) rotate(45)" font-size="6.8" fill="#222">60</text><text transform="translate(281.27,266.84) rotate(45)" font-size="6.8" fill="#222">70</text><text transform="translate(291.30,266.84) rotate(45)" font-size="6.8" fill="#222">80</text><text transform="translate(301.33,266.84) rotate(45)" font-size="6.8" fill="#222">90</text><text transform="translate(310.02,266.84) rotate(45)" font-size="6.8" fill="#222">100</text><text transform="translate(196.8,221.05) rotate(-90)" font-size="6.8" text-anchor="middle" fill="#222">PHEVs / 1k Capita</text><text x="266.25" y="281.8" font-size="6.6" letter-spacing="0.12" text-anchor="middle" fill="#222">Mean CalEnviroScreen</text><text x="266.25" y="289.0" font-size="6.6" letter-spacing="0.12" text-anchor="middle" fill="#222">Percentile Score</text><rect x="380.8" y="180.4" width="110.69999999999999" height="80.4" fill="#fff"/><path d="M385.00,180.4V260.8M395.08,180.4V260.8M405.16,180.4V260.8M415.24,180.4V260.8M425.32,180.4V260.8M435.40,180.4V260.8M445.48,180.4V260.8M455.56,180.4V260.8M465.64,180.4V260.8M475.72,180.4V260.8M485.80,180.4V260.8M380.8,254.20H491.5M380.8,234.90H491.5M380.8,215.60H491.5M380.8,196.30H491.5" stroke="#dcdcdc" stroke-width="0.6" fill="none"/><polygon points="385.50,222.60 436.00,239.50 486.00,252.00 486.00,257.60 436.00,243.00 385.50,232.30" fill="#a8a8a8" fill-opacity="0.6"/><path d="M404.80,183.60h1v1h-1zM425.40,190.00h1v1h-1zM412.00,195.20h1v1h-1zM390.00,205.10h1v1h-1zM414.70,206.50h1v1h-1zM417.00,208.50h1v1h-1zM417.00,210.50h1v1h-1zM411.10,208.40h1v1h-1zM406.50,213.30h1v1h-1zM401.50,214.40h1v1h-1zM396.00,218.80h1v1h-1zM396.50,222.10h1v1h-1zM434.50,222.10h1v1h-1zM444.10,218.00h1v1h-1zM449.70,230.40h1v1h-1zM397.40,244.10h1v1h-1zM394.60,253.20h1v1h-1zM456.50,238.60h1v1h-1zM396.30,218.20h1v1h-1zM396.30,222.60h1v1h-1zM401.50,214.40h1v1h-1zM407.10,213.30h1v1h-1zM410.90,215.10h1v1h-1zM408.00,221.40h1v1h-1zM416.70,219.10h1v1h-1zM415.80,225.20h1v1h-1zM397.00,244.40h1v1h-1zM401.50,245.80h1v1h-1zM406.20,242.30h1v1h-1zM394.90,253.70h1v1h-1zM450.15,253.17h1v1h-1zM415.61,229.83h1v1h-1zM423.77,247.13h1v1h-1zM463.07,246.84h1v1h-1zM425.53,224.57h1v1h-1zM452.76,247.94h1v1h-1zM441.61,248.60h1v1h-1zM414.66,241.66h1v1h-1zM441.78,237.84h1v1h-1zM456.17,253.10h1v1h-1zM443.66,245.73h1v1h-1zM425.65,248.42h1v1h-1zM450.23,253.26h1v1h-1zM443.07,233.79h1v1h-1zM412.26,238.67h1v1h-1zM430.33,243.41h1v1h-1zM397.56,240.19h1v1h-1zM452.81,240.64h1v1h-1zM423.17,247.26h1v1h-1zM412.57,206.49h1v1h-1zM442.11,237.77h1v1h-1zM439.24,230.64h1v1h-1zM438.87,245.26h1v1h-1zM409.50,241.44h1v1h-1zM421.91,247.15h1v1h-1zM459.20,253.70h1v1h-1zM450.41,249.31h1v1h-1zM452.99,243.89h1v1h-1zM428.50,238.06h1v1h-1zM423.35,242.66h1v1h-1zM438.60,230.70h1v1h-1zM418.37,249.05h1v1h-1zM451.37,245.02h1v1h-1zM401.48,243.27h1v1h-1zM405.90,242.27h1v1h-1zM429.31,239.53h1v1h-1zM454.10,244.74h1v1h-1zM400.41,238.79h1v1h-1zM419.33,247.22h1v1h-1zM428.56,245.59h1v1h-1zM453.73,253.45h1v1h-1zM423.14,248.05h1v1h-1zM429.95,240.06h1v1h-1zM396.98,231.84h1v1h-1zM410.81,236.72h1v1h-1zM411.05,235.15h1v1h-1zM419.85,247.03h1v1h-1zM441.86,240.03h1v1h-1zM421.59,248.91h1v1h-1zM451.42,252.60h1v1h-1zM430.20,250.92h1v1h-1zM417.63,223.45h1v1h-1zM399.46,240.62h1v1h-1zM452.02,245.51h1v1h-1zM429.24,248.57h1v1h-1zM431.51,248.04h1v1h-1zM437.52,220.37h1v1h-1zM441.33,236.84h1v1h-1zM446.26,249.66h1v1h-1zM426.10,243.91h1v1h-1zM397.71,215.76h1v1h-1zM407.49,245.07h1v1h-1zM400.96,244.21h1v1h-1zM429.97,239.60h1v1h-1zM414.85,246.05h1v1h-1zM410.00,217.31h1v1h-1zM409.46,245.81h1v1h-1zM458.82,253.70h1v1h-1zM396.60,226.06h1v1h-1zM424.38,235.43h1v1h-1zM455.84,226.59h1v1h-1zM457.90,245.49h1v1h-1zM422.95,243.22h1v1h-1zM438.22,245.59h1v1h-1zM447.14,233.05h1v1h-1zM422.41,230.48h1v1h-1zM455.12,239.66h1v1h-1zM420.64,231.69h1v1h-1zM411.86,243.19h1v1h-1zM426.01,239.24h1v1h-1zM457.72,248.52h1v1h-1zM459.85,234.32h1v1h-1zM449.89,247.93h1v1h-1zM458.46,242.49h1v1h-1zM428.55,250.34h1v1h-1zM459.78,250.76h1v1h-1zM408.84,237.93h1v1h-1zM444.05,231.68h1v1h-1zM424.89,243.25h1v1h-1zM449.04,242.02h1v1h-1zM401.07,238.90h1v1h-1zM436.92,224.18h1v1h-1zM413.87,243.38h1v1h-1zM429.86,235.47h1v1h-1zM448.70,252.36h1v1h-1zM455.21,247.18h1v1h-1zM413.20,247.62h1v1h-1zM423.08,244.50h1v1h-1zM463.08,253.70h1v1h-1zM409.69,244.48h1v1h-1zM421.44,241.09h1v1h-1zM407.09,246.68h1v1h-1zM412.83,228.59h1v1h-1zM400.45,242.74h1v1h-1zM450.97,248.41h1v1h-1zM411.67,242.16h1v1h-1zM410.22,246.91h1v1h-1zM434.59,250.67h1v1h-1zM445.47,252.41h1v1h-1zM402.17,234.74h1v1h-1zM429.18,238.96h1v1h-1zM416.81,242.08h1v1h-1zM435.71,248.75h1v1h-1zM456.47,239.72h1v1h-1zM443.10,222.94h1v1h-1zM449.74,234.48h1v1h-1zM435.51,237.86h1v1h-1zM431.26,246.35h1v1h-1zM401.75,237.49h1v1h-1zM401.37,244.18h1v1h-1z" fill="#fff" fill-opacity="0.5" stroke="#555" stroke-width="0.42"/><path d="M474.30,231.70h1.2v1.2h-1.2zM468.80,242.10h1.2v1.2h-1.2zM476.40,242.10h1.2v1.2h-1.2zM459.98,252.35h1.2v1.2h-1.2zM462.87,250.64h1.2v1.2h-1.2zM482.06,252.71h1.2v1.2h-1.2zM467.79,251.99h1.2v1.2h-1.2zM477.42,250.80h1.2v1.2h-1.2zM481.95,251.08h1.2v1.2h-1.2zM464.32,249.02h1.2v1.2h-1.2zM483.19,251.13h1.2v1.2h-1.2zM469.65,252.47h1.2v1.2h-1.2zM473.02,252.30h1.2v1.2h-1.2zM475.38,247.80h1.2v1.2h-1.2zM463.77,249.32h1.2v1.2h-1.2zM463.31,245.85h1.2v1.2h-1.2zM459.15,252.74h1.2v1.2h-1.2zM466.71,245.74h1.2v1.2h-1.2zM464.42,244.73h1.2v1.2h-1.2zM464.73,250.21h1.2v1.2h-1.2zM462.74,249.59h1.2v1.2h-1.2zM480.03,251.10h1.2v1.2h-1.2zM468.86,248.12h1.2v1.2h-1.2zM459.93,252.46h1.2v1.2h-1.2zM483.09,249.68h1.2v1.2h-1.2zM481.53,252.51h1.2v1.2h-1.2zM464.53,247.41h1.2v1.2h-1.2zM466.07,253.22h1.2v1.2h-1.2zM467.60,253.43h1.2v1.2h-1.2zM484.08,252.75h1.2v1.2h-1.2zM478.52,247.60h1.2v1.2h-1.2zM472.10,243.40h1.2v1.2h-1.2zM483.92,253.22h1.2v1.2h-1.2zM470.15,248.94h1.2v1.2h-1.2zM464.03,253.12h1.2v1.2h-1.2zM479.85,250.77h1.2v1.2h-1.2zM472.50,251.47h1.2v1.2h-1.2zM471.10,252.63h1.2v1.2h-1.2zM460.15,244.85h1.2v1.2h-1.2zM481.49,250.72h1.2v1.2h-1.2zM464.59,250.26h1.2v1.2h-1.2zM461.96,252.96h1.2v1.2h-1.2zM467.94,250.29h1.2v1.2h-1.2zM482.76,250.77h1.2v1.2h-1.2zM460.90,252.77h1.2v1.2h-1.2zM469.17,252.22h1.2v1.2h-1.2zM469.55,250.71h1.2v1.2h-1.2zM465.13,253.44h1.2v1.2h-1.2zM469.62,243.38h1.2v1.2h-1.2zM480.03,252.96h1.2v1.2h-1.2zM482.39,253.12h1.2v1.2h-1.2zM468.63,250.90h1.2v1.2h-1.2zM469.03,251.05h1.2v1.2h-1.2zM482.34,250.44h1.2v1.2h-1.2zM470.25,252.09h1.2v1.2h-1.2zM470.40,246.37h1.2v1.2h-1.2zM471.21,253.46h1.2v1.2h-1.2zM481.39,251.72h1.2v1.2h-1.2zM469.69,250.98h1.2v1.2h-1.2zM470.56,252.81h1.2v1.2h-1.2zM459.28,248.06h1.2v1.2h-1.2zM467.43,247.09h1.2v1.2h-1.2zM475.95,247.98h1.2v1.2h-1.2z" fill="#f11"/><line x1="385.5" y1="227.3" x2="486" y2="254.8" stroke="#303030" stroke-width="0.95"/><path d="M380.8,180.4H491.5V260.8H380.8" fill="none" stroke="#999" stroke-width="0.75"/><path d="M380.90000000000003,180.1V261.1" fill="none" stroke="#b4b4b4" stroke-width="1.3"/><path d="M385.00,260.8v1.3M395.08,260.8v1.3M405.16,260.8v1.3M415.24,260.8v1.3M425.32,260.8v1.3M435.40,260.8v1.3M445.48,260.8v1.3M455.56,260.8v1.3M465.64,260.8v1.3M475.72,260.8v1.3M485.80,260.8v1.3M380.8,254.20h-1.3M380.8,234.90h-1.3M380.8,215.60h-1.3M380.8,196.30h-1.3" stroke="#666" stroke-width="0.5"/><text x="378.8" y="256.70" font-size="7.0" text-anchor="end" fill="#222" color="#222">0.0</text><text x="378.8" y="237.40" font-size="7.0" text-anchor="end" fill="#222" color="#222">0.1</text><text x="378.8" y="218.10" font-size="7.0" text-anchor="end" fill="#222" color="#222">0.2</text><text x="378.8" y="198.80" font-size="7.0" text-anchor="end" fill="#222" color="#222">0.3</text><text transform="translate(382.69,266.84) rotate(45)" font-size="6.8" fill="#222">0</text><text transform="translate(390.94,266.84) rotate(45)" font-size="6.8" fill="#222">10</text><text transform="translate(401.02,266.84) rotate(45)" font-size="6.8" fill="#222">20</text><text transform="translate(411.10,266.84) rotate(45)" font-size="6.8" fill="#222">30</text><text transform="translate(421.18,266.84) rotate(45)" font-size="6.8" fill="#222">40</text><text transform="translate(431.26,266.84) rotate(45)" font-size="6.8" fill="#222">50</text><text transform="translate(441.34,266.84) rotate(45)" font-size="6.8" fill="#222">60</text><text transform="translate(451.42,266.84) rotate(45)" font-size="6.8" fill="#222">70</text><text transform="translate(461.50,266.84) rotate(45)" font-size="6.8" fill="#222">80</text><text transform="translate(471.58,266.84) rotate(45)" font-size="6.8" fill="#222">90</text><text transform="translate(480.32,266.84) rotate(45)" font-size="6.8" fill="#222">100</text><text transform="translate(364.0,220.60) rotate(-90)" font-size="6.8" text-anchor="middle" fill="#222">MW-AC / 1k Capita</text><text x="435.75" y="281.8" font-size="6.6" letter-spacing="0.12" text-anchor="middle" fill="#222">Mean CalEnviroScreen</text><text x="435.75" y="289.0" font-size="6.6" letter-spacing="0.12" text-anchor="middle" fill="#222">Percentile Score</text>
</svg></body></html>
